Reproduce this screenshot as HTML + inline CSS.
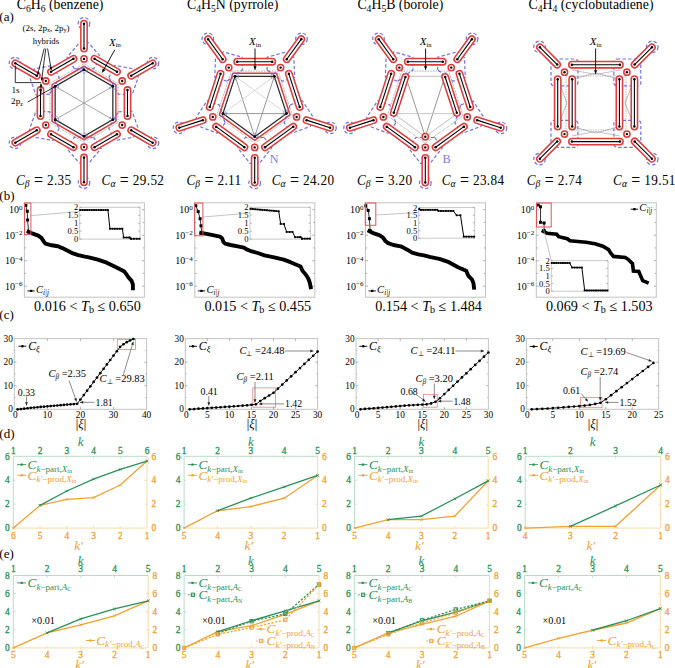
<!DOCTYPE html>
<html><head><meta charset="utf-8"><style>
html,body{margin:0;padding:0;background:#fff;}
svg{display:block;}
text{font-family:"Liberation Serif", serif;}
</style></head><body>
<svg width="675" height="668" viewBox="0 0 675 668">
<rect width="675" height="668" fill="#fff"/>
<text x="16.7" y="9.3" font-size="13.8" text-anchor="start" fill="#000"  ><tspan dy="-0.0">C</tspan><tspan font-size="70%" dy="2.2">6</tspan><tspan dy="-2.2">H</tspan><tspan font-size="70%" dy="2.2">6</tspan><tspan dy="-2.2"> (benzene)</tspan></text>
<text x="187.0" y="9.3" font-size="13.8" text-anchor="start" fill="#000"  ><tspan dy="-0.0">C</tspan><tspan font-size="70%" dy="2.2">4</tspan><tspan dy="-2.2">H</tspan><tspan font-size="70%" dy="2.2">5</tspan><tspan dy="-2.2">N (pyrrole)</tspan></text>
<text x="357.4" y="9.3" font-size="13.8" text-anchor="start" fill="#000"  ><tspan dy="-0.0">C</tspan><tspan font-size="70%" dy="2.2">4</tspan><tspan dy="-2.2">H</tspan><tspan font-size="70%" dy="2.2">5</tspan><tspan dy="-2.2">B (borole)</tspan></text>
<text x="528.5" y="9.3" font-size="13.8" text-anchor="start" fill="#000"  ><tspan dy="-0.0">C</tspan><tspan font-size="70%" dy="2.2">4</tspan><tspan dy="-2.2">H</tspan><tspan font-size="70%" dy="2.2">4</tspan><tspan dy="-2.2"> (cyclobutadiene)</tspan></text>
<text x="-0.7" y="20.5" font-size="13" text-anchor="start" fill="#000"  >(a)</text>
<text x="-0.7" y="199.5" font-size="13" text-anchor="start" fill="#000"  >(b)</text>
<text x="-0.7" y="319.2" font-size="13" text-anchor="start" fill="#000"  >(c)</text>
<text x="-0.7" y="438.0" font-size="13" text-anchor="start" fill="#000"  >(d)</text>
<text x="-0.7" y="557.8" font-size="13" text-anchor="start" fill="#000"  >(e)</text>
<rect x="24.4" y="202.8" width="120.0" height="94.4" fill="none" stroke="#c4c4c4" stroke-width="1"/>
<line x1="24.40" y1="286.20" x2="26.90" y2="286.20" stroke="#999" stroke-width="0.8" />
<line x1="144.40" y1="286.20" x2="141.90" y2="286.20" stroke="#999" stroke-width="0.8" />
<line x1="24.40" y1="273.45" x2="26.00" y2="273.45" stroke="#999" stroke-width="0.8" />
<line x1="144.40" y1="273.45" x2="142.80" y2="273.45" stroke="#999" stroke-width="0.8" />
<line x1="24.40" y1="260.70" x2="26.90" y2="260.70" stroke="#999" stroke-width="0.8" />
<line x1="144.40" y1="260.70" x2="141.90" y2="260.70" stroke="#999" stroke-width="0.8" />
<line x1="24.40" y1="247.95" x2="26.00" y2="247.95" stroke="#999" stroke-width="0.8" />
<line x1="144.40" y1="247.95" x2="142.80" y2="247.95" stroke="#999" stroke-width="0.8" />
<line x1="24.40" y1="235.20" x2="26.90" y2="235.20" stroke="#999" stroke-width="0.8" />
<line x1="144.40" y1="235.20" x2="141.90" y2="235.20" stroke="#999" stroke-width="0.8" />
<line x1="24.40" y1="222.45" x2="26.00" y2="222.45" stroke="#999" stroke-width="0.8" />
<line x1="144.40" y1="222.45" x2="142.80" y2="222.45" stroke="#999" stroke-width="0.8" />
<line x1="24.40" y1="209.70" x2="26.90" y2="209.70" stroke="#999" stroke-width="0.8" />
<line x1="144.40" y1="209.70" x2="141.90" y2="209.70" stroke="#999" stroke-width="0.8" />
<text x="22.4" y="213.1" font-size="10" text-anchor="end">10<tspan font-size="7" dy="-3.4">0</tspan></text>
<text x="22.4" y="238.6" font-size="10" text-anchor="end">10<tspan font-size="7" dy="-3.4">−2</tspan></text>
<text x="22.4" y="264.1" font-size="10" text-anchor="end">10<tspan font-size="7" dy="-3.4">−4</tspan></text>
<text x="22.4" y="289.6" font-size="10" text-anchor="end">10<tspan font-size="7" dy="-3.4">−6</tspan></text>
<polyline points="28.60,231.70 32.10,233.40 38.30,235.70 41.40,237.90 43.70,241.40 45.40,243.70 51.70,245.30 57.90,246.30 62.30,248.10 67.70,250.80 73.00,253.40 78.30,255.20 85.00,256.60 88.90,257.30 97.80,259.60 106.70,262.70 115.60,267.10 124.40,271.60 126.70,274.70 128.40,277.30 131.60,280.90 132.90,284.40 132.90,288.40" stroke="#000" stroke-width="3.9" fill="none" stroke-linejoin="round" stroke-linecap="square"/>
<polyline points="25.80,205.40 27.30,211.30 27.60,220.00 28.60,232.00" stroke="#000" stroke-width="0.8" fill="none" />
<rect x="24.3" y="203.9" width="3" height="3" fill="#000"/>
<rect x="25.8" y="209.8" width="3" height="3" fill="#000"/>
<rect x="26.1" y="218.5" width="3" height="3" fill="#000"/>
<rect x="27.1" y="230.5" width="3" height="3" fill="#000"/>
<rect x="24.5" y="203" width="6.4" height="31.4" fill="none" stroke="#e05555" stroke-width="1"/>
<line x1="30.90" y1="215.60" x2="79.70" y2="211.50" stroke="#aaa" stroke-width="0.7" />
<rect x="79.7" y="207.3" width="60.3" height="31.8" fill="#fff" stroke="#c4c4c4" stroke-width="0.9"/>
<line x1="79.70" y1="239.10" x2="81.50" y2="239.10" stroke="#999" stroke-width="0.7" />
<line x1="140.00" y1="239.10" x2="138.20" y2="239.10" stroke="#999" stroke-width="0.7" />
<text x="78.2" y="242.1" font-size="8.6" text-anchor="end">0</text>
<line x1="79.70" y1="231.15" x2="81.50" y2="231.15" stroke="#999" stroke-width="0.7" />
<line x1="140.00" y1="231.15" x2="138.20" y2="231.15" stroke="#999" stroke-width="0.7" />
<text x="78.2" y="234.2" font-size="8.6" text-anchor="end">0.5</text>
<line x1="79.70" y1="223.20" x2="81.50" y2="223.20" stroke="#999" stroke-width="0.7" />
<line x1="140.00" y1="223.20" x2="138.20" y2="223.20" stroke="#999" stroke-width="0.7" />
<text x="78.2" y="226.2" font-size="8.6" text-anchor="end">1</text>
<line x1="79.70" y1="215.25" x2="81.50" y2="215.25" stroke="#999" stroke-width="0.7" />
<line x1="140.00" y1="215.25" x2="138.20" y2="215.25" stroke="#999" stroke-width="0.7" />
<text x="78.2" y="218.2" font-size="8.6" text-anchor="end">1.5</text>
<line x1="79.70" y1="207.30" x2="81.50" y2="207.30" stroke="#999" stroke-width="0.7" />
<line x1="140.00" y1="207.30" x2="138.20" y2="207.30" stroke="#999" stroke-width="0.7" />
<text x="78.2" y="210.3" font-size="8.6" text-anchor="end">2</text>
<polyline points="80.20,210.00 107.95,210.00 109.91,228.76 122.36,228.76 123.67,237.51 129.42,237.51 131.20,238.78 139.50,238.78" stroke="#000" stroke-width="1.0" fill="none" />
<rect x="79.2" y="209.1" width="1.9" height="1.9" fill="#000"/>
<rect x="81.6" y="209.1" width="1.9" height="1.9" fill="#000"/>
<rect x="83.9" y="209.1" width="1.9" height="1.9" fill="#000"/>
<rect x="86.2" y="209.1" width="1.9" height="1.9" fill="#000"/>
<rect x="88.5" y="209.1" width="1.9" height="1.9" fill="#000"/>
<rect x="90.8" y="209.1" width="1.9" height="1.9" fill="#000"/>
<rect x="93.1" y="209.1" width="1.9" height="1.9" fill="#000"/>
<rect x="95.4" y="209.1" width="1.9" height="1.9" fill="#000"/>
<rect x="97.8" y="209.1" width="1.9" height="1.9" fill="#000"/>
<rect x="100.1" y="209.1" width="1.9" height="1.9" fill="#000"/>
<rect x="102.4" y="209.1" width="1.9" height="1.9" fill="#000"/>
<rect x="104.7" y="209.1" width="1.9" height="1.9" fill="#000"/>
<rect x="107.0" y="209.1" width="1.9" height="1.9" fill="#000"/>
<rect x="109.0" y="227.8" width="1.9" height="1.9" fill="#000"/>
<rect x="111.4" y="227.8" width="1.9" height="1.9" fill="#000"/>
<rect x="113.9" y="227.8" width="1.9" height="1.9" fill="#000"/>
<rect x="116.4" y="227.8" width="1.9" height="1.9" fill="#000"/>
<rect x="118.9" y="227.8" width="1.9" height="1.9" fill="#000"/>
<rect x="121.4" y="227.8" width="1.9" height="1.9" fill="#000"/>
<rect x="122.7" y="236.6" width="1.9" height="1.9" fill="#000"/>
<rect x="125.6" y="236.6" width="1.9" height="1.9" fill="#000"/>
<rect x="128.5" y="236.6" width="1.9" height="1.9" fill="#000"/>
<rect x="128.5" y="236.6" width="1.9" height="1.9" fill="#000"/>
<rect x="130.2" y="237.8" width="1.9" height="1.9" fill="#000"/>
<rect x="130.2" y="237.8" width="1.9" height="1.9" fill="#000"/>
<rect x="133.0" y="237.8" width="1.9" height="1.9" fill="#000"/>
<rect x="135.8" y="237.8" width="1.9" height="1.9" fill="#000"/>
<rect x="138.6" y="237.8" width="1.9" height="1.9" fill="#000"/>
<text x="87.4" y="310.5" font-size="14.2" text-anchor="middle">0.016 &lt; <tspan font-style="italic">T</tspan><tspan font-size="10" dy="2.5">b</tspan><tspan dy="-2.5"> ≤ 0.650</tspan></text>
<line x1="27.40" y1="290.90" x2="34.80" y2="290.90" stroke="#000" stroke-width="0.9" />
<rect x="29.9" y="289.79999999999995" width="2.4" height="2.2" fill="#000"/>
<text x="36.0" y="292.8" font-size="10.6"><tspan font-style="italic">C</tspan><tspan font-size="7.2" dy="1.8" font-style="italic">i|j</tspan></text>
<rect x="194.8" y="202.8" width="120.0" height="94.4" fill="none" stroke="#c4c4c4" stroke-width="1"/>
<line x1="194.80" y1="286.20" x2="197.30" y2="286.20" stroke="#999" stroke-width="0.8" />
<line x1="314.80" y1="286.20" x2="312.30" y2="286.20" stroke="#999" stroke-width="0.8" />
<line x1="194.80" y1="273.45" x2="196.40" y2="273.45" stroke="#999" stroke-width="0.8" />
<line x1="314.80" y1="273.45" x2="313.20" y2="273.45" stroke="#999" stroke-width="0.8" />
<line x1="194.80" y1="260.70" x2="197.30" y2="260.70" stroke="#999" stroke-width="0.8" />
<line x1="314.80" y1="260.70" x2="312.30" y2="260.70" stroke="#999" stroke-width="0.8" />
<line x1="194.80" y1="247.95" x2="196.40" y2="247.95" stroke="#999" stroke-width="0.8" />
<line x1="314.80" y1="247.95" x2="313.20" y2="247.95" stroke="#999" stroke-width="0.8" />
<line x1="194.80" y1="235.20" x2="197.30" y2="235.20" stroke="#999" stroke-width="0.8" />
<line x1="314.80" y1="235.20" x2="312.30" y2="235.20" stroke="#999" stroke-width="0.8" />
<line x1="194.80" y1="222.45" x2="196.40" y2="222.45" stroke="#999" stroke-width="0.8" />
<line x1="314.80" y1="222.45" x2="313.20" y2="222.45" stroke="#999" stroke-width="0.8" />
<line x1="194.80" y1="209.70" x2="197.30" y2="209.70" stroke="#999" stroke-width="0.8" />
<line x1="314.80" y1="209.70" x2="312.30" y2="209.70" stroke="#999" stroke-width="0.8" />
<text x="192.8" y="213.1" font-size="10" text-anchor="end">10<tspan font-size="7" dy="-3.4">0</tspan></text>
<text x="192.8" y="238.6" font-size="10" text-anchor="end">10<tspan font-size="7" dy="-3.4">−2</tspan></text>
<text x="192.8" y="264.1" font-size="10" text-anchor="end">10<tspan font-size="7" dy="-3.4">−4</tspan></text>
<text x="192.8" y="289.6" font-size="10" text-anchor="end">10<tspan font-size="7" dy="-3.4">−6</tspan></text>
<polyline points="201.20,233.00 206.60,233.90 212.80,235.20 219.90,236.60 222.10,238.30 223.40,241.90 225.20,243.70 230.60,245.00 237.70,246.30 243.90,247.70 246.60,249.40 250.10,250.80 257.70,253.00 264.50,255.40 274.10,257.30 283.70,259.70 290.50,262.20 298.20,265.50 300.60,266.50 302.50,270.80 305.90,274.70 308.30,278.50 309.70,282.40 310.70,287.20" stroke="#000" stroke-width="3.9" fill="none" stroke-linejoin="round" stroke-linecap="square"/>
<polyline points="195.80,205.70 198.20,211.60 200.10,218.70 201.00,225.80 201.70,232.90" stroke="#000" stroke-width="0.8" fill="none" />
<rect x="194.3" y="204.2" width="3" height="3" fill="#000"/>
<rect x="196.7" y="210.1" width="3" height="3" fill="#000"/>
<rect x="198.6" y="217.2" width="3" height="3" fill="#000"/>
<rect x="199.5" y="224.3" width="3" height="3" fill="#000"/>
<rect x="200.2" y="231.4" width="3" height="3" fill="#000"/>
<rect x="194.6" y="203" width="8.3" height="32.8" fill="none" stroke="#e05555" stroke-width="1"/>
<line x1="202.90" y1="217.00" x2="250.00" y2="213.00" stroke="#aaa" stroke-width="0.7" />
<rect x="250.0" y="207.3" width="60.3" height="31.8" fill="#fff" stroke="#c4c4c4" stroke-width="0.9"/>
<line x1="250.00" y1="239.10" x2="251.80" y2="239.10" stroke="#999" stroke-width="0.7" />
<line x1="310.30" y1="239.10" x2="308.50" y2="239.10" stroke="#999" stroke-width="0.7" />
<text x="248.5" y="242.1" font-size="8.6" text-anchor="end">0</text>
<line x1="250.00" y1="231.15" x2="251.80" y2="231.15" stroke="#999" stroke-width="0.7" />
<line x1="310.30" y1="231.15" x2="308.50" y2="231.15" stroke="#999" stroke-width="0.7" />
<text x="248.5" y="234.2" font-size="8.6" text-anchor="end">0.5</text>
<line x1="250.00" y1="223.20" x2="251.80" y2="223.20" stroke="#999" stroke-width="0.7" />
<line x1="310.30" y1="223.20" x2="308.50" y2="223.20" stroke="#999" stroke-width="0.7" />
<text x="248.5" y="226.2" font-size="8.6" text-anchor="end">1</text>
<line x1="250.00" y1="215.25" x2="251.80" y2="215.25" stroke="#999" stroke-width="0.7" />
<line x1="310.30" y1="215.25" x2="308.50" y2="215.25" stroke="#999" stroke-width="0.7" />
<text x="248.5" y="218.2" font-size="8.6" text-anchor="end">1.5</text>
<line x1="250.00" y1="207.30" x2="251.80" y2="207.30" stroke="#999" stroke-width="0.7" />
<line x1="310.30" y1="207.30" x2="308.50" y2="207.30" stroke="#999" stroke-width="0.7" />
<text x="248.5" y="210.3" font-size="8.6" text-anchor="end">2</text>
<polyline points="250.50,208.89 278.73,211.28 280.68,224.00 283.95,224.00 286.61,231.94 292.48,231.94 295.03,237.19 300.31,237.19 302.09,238.62 309.80,238.62" stroke="#000" stroke-width="1.0" fill="none" />
<rect x="249.6" y="207.9" width="1.9" height="1.9" fill="#000"/>
<rect x="251.9" y="208.1" width="1.9" height="1.9" fill="#000"/>
<rect x="254.3" y="208.3" width="1.9" height="1.9" fill="#000"/>
<rect x="256.6" y="208.5" width="1.9" height="1.9" fill="#000"/>
<rect x="259.0" y="208.7" width="1.9" height="1.9" fill="#000"/>
<rect x="261.3" y="208.9" width="1.9" height="1.9" fill="#000"/>
<rect x="263.7" y="209.1" width="1.9" height="1.9" fill="#000"/>
<rect x="266.0" y="209.3" width="1.9" height="1.9" fill="#000"/>
<rect x="268.4" y="209.5" width="1.9" height="1.9" fill="#000"/>
<rect x="270.7" y="209.7" width="1.9" height="1.9" fill="#000"/>
<rect x="273.1" y="209.9" width="1.9" height="1.9" fill="#000"/>
<rect x="275.4" y="210.1" width="1.9" height="1.9" fill="#000"/>
<rect x="277.8" y="210.3" width="1.9" height="1.9" fill="#000"/>
<rect x="279.7" y="223.0" width="1.9" height="1.9" fill="#000"/>
<rect x="283.0" y="223.0" width="1.9" height="1.9" fill="#000"/>
<rect x="285.7" y="231.0" width="1.9" height="1.9" fill="#000"/>
<rect x="288.6" y="231.0" width="1.9" height="1.9" fill="#000"/>
<rect x="291.5" y="231.0" width="1.9" height="1.9" fill="#000"/>
<rect x="294.1" y="236.2" width="1.9" height="1.9" fill="#000"/>
<rect x="296.7" y="236.2" width="1.9" height="1.9" fill="#000"/>
<rect x="299.4" y="236.2" width="1.9" height="1.9" fill="#000"/>
<rect x="299.4" y="236.2" width="1.9" height="1.9" fill="#000"/>
<rect x="301.1" y="237.7" width="1.9" height="1.9" fill="#000"/>
<rect x="301.1" y="237.7" width="1.9" height="1.9" fill="#000"/>
<rect x="303.7" y="237.7" width="1.9" height="1.9" fill="#000"/>
<rect x="306.3" y="237.7" width="1.9" height="1.9" fill="#000"/>
<rect x="308.9" y="237.7" width="1.9" height="1.9" fill="#000"/>
<text x="257.8" y="310.5" font-size="14.2" text-anchor="middle">0.015 &lt; <tspan font-style="italic">T</tspan><tspan font-size="10" dy="2.5">b</tspan><tspan dy="-2.5"> ≤ 0.455</tspan></text>
<line x1="197.80" y1="290.90" x2="205.20" y2="290.90" stroke="#000" stroke-width="0.9" />
<rect x="200.3" y="289.79999999999995" width="2.4" height="2.2" fill="#000"/>
<text x="206.4" y="292.8" font-size="10.6"><tspan font-style="italic">C</tspan><tspan font-size="7.2" dy="1.8" font-style="italic">i|j</tspan></text>
<rect x="365.5" y="202.8" width="120.0" height="94.4" fill="none" stroke="#c4c4c4" stroke-width="1"/>
<line x1="365.50" y1="286.20" x2="368.00" y2="286.20" stroke="#999" stroke-width="0.8" />
<line x1="485.50" y1="286.20" x2="483.00" y2="286.20" stroke="#999" stroke-width="0.8" />
<line x1="365.50" y1="273.45" x2="367.10" y2="273.45" stroke="#999" stroke-width="0.8" />
<line x1="485.50" y1="273.45" x2="483.90" y2="273.45" stroke="#999" stroke-width="0.8" />
<line x1="365.50" y1="260.70" x2="368.00" y2="260.70" stroke="#999" stroke-width="0.8" />
<line x1="485.50" y1="260.70" x2="483.00" y2="260.70" stroke="#999" stroke-width="0.8" />
<line x1="365.50" y1="247.95" x2="367.10" y2="247.95" stroke="#999" stroke-width="0.8" />
<line x1="485.50" y1="247.95" x2="483.90" y2="247.95" stroke="#999" stroke-width="0.8" />
<line x1="365.50" y1="235.20" x2="368.00" y2="235.20" stroke="#999" stroke-width="0.8" />
<line x1="485.50" y1="235.20" x2="483.00" y2="235.20" stroke="#999" stroke-width="0.8" />
<line x1="365.50" y1="222.45" x2="367.10" y2="222.45" stroke="#999" stroke-width="0.8" />
<line x1="485.50" y1="222.45" x2="483.90" y2="222.45" stroke="#999" stroke-width="0.8" />
<line x1="365.50" y1="209.70" x2="368.00" y2="209.70" stroke="#999" stroke-width="0.8" />
<line x1="485.50" y1="209.70" x2="483.00" y2="209.70" stroke="#999" stroke-width="0.8" />
<text x="363.5" y="213.1" font-size="10" text-anchor="end">10<tspan font-size="7" dy="-3.4">0</tspan></text>
<text x="363.5" y="238.6" font-size="10" text-anchor="end">10<tspan font-size="7" dy="-3.4">−2</tspan></text>
<text x="363.5" y="264.1" font-size="10" text-anchor="end">10<tspan font-size="7" dy="-3.4">−4</tspan></text>
<text x="363.5" y="289.6" font-size="10" text-anchor="end">10<tspan font-size="7" dy="-3.4">−6</tspan></text>
<polyline points="369.40,231.20 373.90,233.40 379.20,235.20 382.80,237.40 385.40,241.00 388.10,243.20 393.40,245.00 400.60,246.30 404.10,248.10 407.70,249.90 412.10,252.60 418.30,254.30 425.00,255.70 429.60,256.90 439.30,258.80 448.90,262.20 458.50,267.50 466.20,270.80 468.20,275.60 472.00,279.50 473.50,283.40 474.00,287.70" stroke="#000" stroke-width="3.9" fill="none" stroke-linejoin="round" stroke-linecap="square"/>
<polyline points="365.80,205.70 368.20,210.40 369.40,218.70 370.10,230.50" stroke="#000" stroke-width="0.8" fill="none" />
<rect x="364.3" y="204.2" width="3" height="3" fill="#000"/>
<rect x="366.7" y="208.9" width="3" height="3" fill="#000"/>
<rect x="367.9" y="217.2" width="3" height="3" fill="#000"/>
<rect x="368.6" y="229.0" width="3" height="3" fill="#000"/>
<rect x="365.3" y="203" width="10.5" height="22.3" fill="none" stroke="#e05555" stroke-width="1"/>
<line x1="375.80" y1="215.00" x2="418.70" y2="212.50" stroke="#aaa" stroke-width="0.7" />
<rect x="418.7" y="207.6" width="56.0" height="30.6" fill="#fff" stroke="#c4c4c4" stroke-width="0.9"/>
<line x1="418.70" y1="238.20" x2="420.50" y2="238.20" stroke="#999" stroke-width="0.7" />
<line x1="474.70" y1="238.20" x2="472.90" y2="238.20" stroke="#999" stroke-width="0.7" />
<text x="417.2" y="241.2" font-size="8.6" text-anchor="end">0</text>
<line x1="418.70" y1="230.55" x2="420.50" y2="230.55" stroke="#999" stroke-width="0.7" />
<line x1="474.70" y1="230.55" x2="472.90" y2="230.55" stroke="#999" stroke-width="0.7" />
<text x="417.2" y="233.5" font-size="8.6" text-anchor="end">0.5</text>
<line x1="418.70" y1="222.90" x2="420.50" y2="222.90" stroke="#999" stroke-width="0.7" />
<line x1="474.70" y1="222.90" x2="472.90" y2="222.90" stroke="#999" stroke-width="0.7" />
<text x="417.2" y="225.9" font-size="8.6" text-anchor="end">1</text>
<line x1="418.70" y1="215.25" x2="420.50" y2="215.25" stroke="#999" stroke-width="0.7" />
<line x1="474.70" y1="215.25" x2="472.90" y2="215.25" stroke="#999" stroke-width="0.7" />
<text x="417.2" y="218.2" font-size="8.6" text-anchor="end">1.5</text>
<line x1="418.70" y1="207.60" x2="420.50" y2="207.60" stroke="#999" stroke-width="0.7" />
<line x1="474.70" y1="207.60" x2="472.90" y2="207.60" stroke="#999" stroke-width="0.7" />
<text x="417.2" y="210.6" font-size="8.6" text-anchor="end">2</text>
<polyline points="419.20,209.13 420.85,209.89 437.35,209.89 438.45,210.97 453.30,210.97 456.60,215.25 460.45,215.25 463.75,236.67 474.20,236.67" stroke="#000" stroke-width="1.0" fill="none" />
<rect x="418.2" y="208.2" width="1.9" height="1.9" fill="#000"/>
<rect x="419.9" y="208.9" width="1.9" height="1.9" fill="#000"/>
<rect x="419.9" y="208.9" width="1.9" height="1.9" fill="#000"/>
<rect x="422.3" y="208.9" width="1.9" height="1.9" fill="#000"/>
<rect x="424.6" y="208.9" width="1.9" height="1.9" fill="#000"/>
<rect x="427.0" y="208.9" width="1.9" height="1.9" fill="#000"/>
<rect x="429.3" y="208.9" width="1.9" height="1.9" fill="#000"/>
<rect x="431.7" y="208.9" width="1.9" height="1.9" fill="#000"/>
<rect x="434.0" y="208.9" width="1.9" height="1.9" fill="#000"/>
<rect x="436.4" y="208.9" width="1.9" height="1.9" fill="#000"/>
<rect x="437.5" y="210.0" width="1.9" height="1.9" fill="#000"/>
<rect x="440.0" y="210.0" width="1.9" height="1.9" fill="#000"/>
<rect x="442.4" y="210.0" width="1.9" height="1.9" fill="#000"/>
<rect x="444.9" y="210.0" width="1.9" height="1.9" fill="#000"/>
<rect x="447.4" y="210.0" width="1.9" height="1.9" fill="#000"/>
<rect x="449.9" y="210.0" width="1.9" height="1.9" fill="#000"/>
<rect x="452.4" y="210.0" width="1.9" height="1.9" fill="#000"/>
<rect x="455.7" y="214.3" width="1.9" height="1.9" fill="#000"/>
<rect x="459.5" y="214.3" width="1.9" height="1.9" fill="#000"/>
<rect x="462.8" y="235.7" width="1.9" height="1.9" fill="#000"/>
<rect x="465.4" y="235.7" width="1.9" height="1.9" fill="#000"/>
<rect x="468.0" y="235.7" width="1.9" height="1.9" fill="#000"/>
<rect x="470.6" y="235.7" width="1.9" height="1.9" fill="#000"/>
<rect x="473.2" y="235.7" width="1.9" height="1.9" fill="#000"/>
<text x="428.5" y="310.5" font-size="14.2" text-anchor="middle">0.154 &lt; <tspan font-style="italic">T</tspan><tspan font-size="10" dy="2.5">b</tspan><tspan dy="-2.5"> ≤ 1.484</tspan></text>
<line x1="368.50" y1="290.90" x2="375.90" y2="290.90" stroke="#000" stroke-width="0.9" />
<rect x="371.0" y="289.79999999999995" width="2.4" height="2.2" fill="#000"/>
<text x="377.1" y="292.8" font-size="10.6"><tspan font-style="italic">C</tspan><tspan font-size="7.2" dy="1.8" font-style="italic">i|j</tspan></text>
<rect x="536.3" y="202.8" width="120.0" height="94.4" fill="none" stroke="#c4c4c4" stroke-width="1"/>
<line x1="536.30" y1="286.20" x2="538.80" y2="286.20" stroke="#999" stroke-width="0.8" />
<line x1="656.30" y1="286.20" x2="653.80" y2="286.20" stroke="#999" stroke-width="0.8" />
<line x1="536.30" y1="273.45" x2="537.90" y2="273.45" stroke="#999" stroke-width="0.8" />
<line x1="656.30" y1="273.45" x2="654.70" y2="273.45" stroke="#999" stroke-width="0.8" />
<line x1="536.30" y1="260.70" x2="538.80" y2="260.70" stroke="#999" stroke-width="0.8" />
<line x1="656.30" y1="260.70" x2="653.80" y2="260.70" stroke="#999" stroke-width="0.8" />
<line x1="536.30" y1="247.95" x2="537.90" y2="247.95" stroke="#999" stroke-width="0.8" />
<line x1="656.30" y1="247.95" x2="654.70" y2="247.95" stroke="#999" stroke-width="0.8" />
<line x1="536.30" y1="235.20" x2="538.80" y2="235.20" stroke="#999" stroke-width="0.8" />
<line x1="656.30" y1="235.20" x2="653.80" y2="235.20" stroke="#999" stroke-width="0.8" />
<line x1="536.30" y1="222.45" x2="537.90" y2="222.45" stroke="#999" stroke-width="0.8" />
<line x1="656.30" y1="222.45" x2="654.70" y2="222.45" stroke="#999" stroke-width="0.8" />
<line x1="536.30" y1="209.70" x2="538.80" y2="209.70" stroke="#999" stroke-width="0.8" />
<line x1="656.30" y1="209.70" x2="653.80" y2="209.70" stroke="#999" stroke-width="0.8" />
<text x="534.3" y="213.1" font-size="10" text-anchor="end">10<tspan font-size="7" dy="-3.4">0</tspan></text>
<text x="534.3" y="238.6" font-size="10" text-anchor="end">10<tspan font-size="7" dy="-3.4">−2</tspan></text>
<text x="534.3" y="264.1" font-size="10" text-anchor="end">10<tspan font-size="7" dy="-3.4">−4</tspan></text>
<text x="534.3" y="289.6" font-size="10" text-anchor="end">10<tspan font-size="7" dy="-3.4">−6</tspan></text>
<polyline points="543.30,231.30 547.30,233.30 556.70,234.30 558.70,236.70 567.30,238.70 570.00,240.70 586.00,242.30 595.00,243.80 602.80,246.20 608.60,249.60 610.60,253.00 613.50,256.40 625.20,257.40 628.10,259.30 632.50,263.70 633.40,271.00 638.80,271.50 640.20,274.90 642.70,280.70 647.00,282.50" stroke="#000" stroke-width="3.6" fill="none" stroke-linejoin="miter" stroke-linecap="square"/>
<polyline points="538.20,205.00 540.50,206.80 540.50,222.30 544.10,223.00 544.10,230.50" stroke="#000" stroke-width="0.8" fill="none" />
<rect x="536.7" y="203.5" width="3" height="3" fill="#000"/>
<rect x="539.0" y="205.3" width="3" height="3" fill="#000"/>
<rect x="539.0" y="220.8" width="3" height="3" fill="#000"/>
<rect x="542.6" y="221.5" width="3" height="3" fill="#000"/>
<rect x="542.6" y="229.0" width="3" height="3" fill="#000"/>
<rect x="536.5" y="203" width="14.7" height="24.0" fill="none" stroke="#e05555" stroke-width="1"/>
<line x1="543.00" y1="227.00" x2="551.30" y2="260.70" stroke="#aaa" stroke-width="0.7" />
<rect x="551.3" y="260.7" width="56.7" height="30.5" fill="#fff" stroke="#c4c4c4" stroke-width="0.9"/>
<line x1="551.30" y1="291.20" x2="553.10" y2="291.20" stroke="#999" stroke-width="0.7" />
<line x1="608.00" y1="291.20" x2="606.20" y2="291.20" stroke="#999" stroke-width="0.7" />
<text x="549.8" y="294.2" font-size="8.6" text-anchor="end">0</text>
<line x1="551.30" y1="283.57" x2="553.10" y2="283.57" stroke="#999" stroke-width="0.7" />
<line x1="608.00" y1="283.57" x2="606.20" y2="283.57" stroke="#999" stroke-width="0.7" />
<text x="549.8" y="286.6" font-size="8.6" text-anchor="end">0.5</text>
<line x1="551.30" y1="275.95" x2="553.10" y2="275.95" stroke="#999" stroke-width="0.7" />
<line x1="608.00" y1="275.95" x2="606.20" y2="275.95" stroke="#999" stroke-width="0.7" />
<text x="549.8" y="278.9" font-size="8.6" text-anchor="end">1</text>
<line x1="551.30" y1="268.32" x2="553.10" y2="268.32" stroke="#999" stroke-width="0.7" />
<line x1="608.00" y1="268.32" x2="606.20" y2="268.32" stroke="#999" stroke-width="0.7" />
<text x="549.8" y="271.3" font-size="8.6" text-anchor="end">1.5</text>
<line x1="551.30" y1="260.70" x2="553.10" y2="260.70" stroke="#999" stroke-width="0.7" />
<line x1="608.00" y1="260.70" x2="606.20" y2="260.70" stroke="#999" stroke-width="0.7" />
<text x="549.8" y="263.7" font-size="8.6" text-anchor="end">2</text>
<polyline points="551.80,262.99 569.62,262.99 572.13,267.56 581.88,267.56 584.66,290.44 607.50,290.44" stroke="#000" stroke-width="1.0" fill="none" />
<rect x="550.8" y="262.0" width="1.9" height="1.9" fill="#000"/>
<rect x="553.1" y="262.0" width="1.9" height="1.9" fill="#000"/>
<rect x="555.3" y="262.0" width="1.9" height="1.9" fill="#000"/>
<rect x="557.5" y="262.0" width="1.9" height="1.9" fill="#000"/>
<rect x="559.8" y="262.0" width="1.9" height="1.9" fill="#000"/>
<rect x="562.0" y="262.0" width="1.9" height="1.9" fill="#000"/>
<rect x="564.2" y="262.0" width="1.9" height="1.9" fill="#000"/>
<rect x="566.4" y="262.0" width="1.9" height="1.9" fill="#000"/>
<rect x="568.7" y="262.0" width="1.9" height="1.9" fill="#000"/>
<rect x="571.2" y="266.6" width="1.9" height="1.9" fill="#000"/>
<rect x="573.6" y="266.6" width="1.9" height="1.9" fill="#000"/>
<rect x="576.1" y="266.6" width="1.9" height="1.9" fill="#000"/>
<rect x="578.5" y="266.6" width="1.9" height="1.9" fill="#000"/>
<rect x="580.9" y="266.6" width="1.9" height="1.9" fill="#000"/>
<rect x="583.7" y="289.5" width="1.9" height="1.9" fill="#000"/>
<rect x="586.0" y="289.5" width="1.9" height="1.9" fill="#000"/>
<rect x="588.3" y="289.5" width="1.9" height="1.9" fill="#000"/>
<rect x="590.6" y="289.5" width="1.9" height="1.9" fill="#000"/>
<rect x="592.8" y="289.5" width="1.9" height="1.9" fill="#000"/>
<rect x="595.1" y="289.5" width="1.9" height="1.9" fill="#000"/>
<rect x="597.4" y="289.5" width="1.9" height="1.9" fill="#000"/>
<rect x="599.7" y="289.5" width="1.9" height="1.9" fill="#000"/>
<rect x="602.0" y="289.5" width="1.9" height="1.9" fill="#000"/>
<rect x="604.3" y="289.5" width="1.9" height="1.9" fill="#000"/>
<rect x="606.5" y="289.5" width="1.9" height="1.9" fill="#000"/>
<text x="599.3" y="310.5" font-size="14.2" text-anchor="middle">0.069 &lt; <tspan font-style="italic">T</tspan><tspan font-size="10" dy="2.5">b</tspan><tspan dy="-2.5"> ≤ 1.503</tspan></text>
<line x1="630.70" y1="209.20" x2="638.10" y2="209.20" stroke="#000" stroke-width="0.9" />
<rect x="633.2" y="208.1" width="2.4" height="2.2" fill="#000"/>
<text x="639.3" y="211.1" font-size="10.6"><tspan font-style="italic">C</tspan><tspan font-size="7.2" dy="1.8" font-style="italic">i|j</tspan></text>
<rect x="117.3" y="339.4" width="18.3" height="10.0" fill="none" stroke="#f08080" stroke-width="0.8"/>
<rect x="14.3" y="338.6" width="132.3" height="70.7" fill="none" stroke="#c4c4c4" stroke-width="1"/>
<text x="12.8" y="412.4" font-size="9.3" text-anchor="end" fill="#000"  >0</text>
<line x1="14.30" y1="385.73" x2="16.50" y2="385.73" stroke="#999" stroke-width="0.8" />
<line x1="146.60" y1="385.73" x2="144.40" y2="385.73" stroke="#999" stroke-width="0.8" />
<text x="12.8" y="388.8" font-size="9.3" text-anchor="end" fill="#000"  >10</text>
<line x1="14.30" y1="362.17" x2="16.50" y2="362.17" stroke="#999" stroke-width="0.8" />
<line x1="146.60" y1="362.17" x2="144.40" y2="362.17" stroke="#999" stroke-width="0.8" />
<text x="12.8" y="365.3" font-size="9.3" text-anchor="end" fill="#000"  >20</text>
<text x="12.8" y="341.7" font-size="9.3" text-anchor="end" fill="#000"  >30</text>
<line x1="14.30" y1="397.52" x2="15.70" y2="397.52" stroke="#aaa" stroke-width="0.7" />
<line x1="146.60" y1="397.52" x2="145.20" y2="397.52" stroke="#aaa" stroke-width="0.7" />
<line x1="14.30" y1="373.95" x2="15.70" y2="373.95" stroke="#aaa" stroke-width="0.7" />
<line x1="146.60" y1="373.95" x2="145.20" y2="373.95" stroke="#aaa" stroke-width="0.7" />
<line x1="14.30" y1="350.38" x2="15.70" y2="350.38" stroke="#aaa" stroke-width="0.7" />
<line x1="146.60" y1="350.38" x2="145.20" y2="350.38" stroke="#aaa" stroke-width="0.7" />
<text x="15.3" y="418.0" font-size="9.3" text-anchor="middle" fill="#000"  >0</text>
<line x1="47.38" y1="409.30" x2="47.38" y2="407.10" stroke="#999" stroke-width="0.8" />
<line x1="47.38" y1="338.60" x2="47.38" y2="340.80" stroke="#999" stroke-width="0.8" />
<text x="47.4" y="418.0" font-size="9.3" text-anchor="middle" fill="#000"  >10</text>
<line x1="80.45" y1="409.30" x2="80.45" y2="407.10" stroke="#999" stroke-width="0.8" />
<line x1="80.45" y1="338.60" x2="80.45" y2="340.80" stroke="#999" stroke-width="0.8" />
<text x="80.5" y="418.0" font-size="9.3" text-anchor="middle" fill="#000"  >20</text>
<line x1="113.53" y1="409.30" x2="113.53" y2="407.10" stroke="#999" stroke-width="0.8" />
<line x1="113.53" y1="338.60" x2="113.53" y2="340.80" stroke="#999" stroke-width="0.8" />
<text x="113.5" y="418.0" font-size="9.3" text-anchor="middle" fill="#000"  >30</text>
<text x="146.6" y="418.0" font-size="9.3" text-anchor="middle" fill="#000"  >40</text>
<text x="81.0" y="427.5" font-size="12.5" text-anchor="middle" fill="#000"  >|<tspan font-style="italic">ξ</tspan>|</text>
<polyline points="17.61,409.30 20.91,409.06 24.22,408.71 27.53,408.24 30.84,407.84 34.15,407.53 37.45,407.23 40.76,406.94 44.07,406.66 47.38,406.35 50.68,406.07 53.99,405.76 57.30,405.48 60.61,405.18 63.91,404.89 67.22,404.59 70.53,404.30 73.84,404.04 77.14,403.76 80.45,399.50 83.76,395.11 87.07,390.72 90.37,386.33 93.68,381.95 96.99,377.56 100.30,373.17 103.60,368.78 106.91,364.40 110.22,360.01 113.53,355.62 116.83,351.24 120.14,346.85 123.45,344.26 126.76,342.13 130.06,340.49 133.37,339.00" stroke="#000" stroke-width="0.9" fill="none" />
<circle cx="17.61" cy="409.30" r="1.35" fill="#000"/>
<circle cx="20.91" cy="409.06" r="1.35" fill="#000"/>
<circle cx="24.22" cy="408.71" r="1.35" fill="#000"/>
<circle cx="27.53" cy="408.24" r="1.35" fill="#000"/>
<circle cx="30.84" cy="407.84" r="1.35" fill="#000"/>
<circle cx="34.15" cy="407.53" r="1.35" fill="#000"/>
<circle cx="37.45" cy="407.23" r="1.35" fill="#000"/>
<circle cx="40.76" cy="406.94" r="1.35" fill="#000"/>
<circle cx="44.07" cy="406.66" r="1.35" fill="#000"/>
<circle cx="47.38" cy="406.35" r="1.35" fill="#000"/>
<circle cx="50.68" cy="406.07" r="1.35" fill="#000"/>
<circle cx="53.99" cy="405.76" r="1.35" fill="#000"/>
<circle cx="57.30" cy="405.48" r="1.35" fill="#000"/>
<circle cx="60.61" cy="405.18" r="1.35" fill="#000"/>
<circle cx="63.91" cy="404.89" r="1.35" fill="#000"/>
<circle cx="67.22" cy="404.59" r="1.35" fill="#000"/>
<circle cx="70.53" cy="404.30" r="1.35" fill="#000"/>
<circle cx="73.84" cy="404.04" r="1.35" fill="#000"/>
<circle cx="77.14" cy="403.76" r="1.35" fill="#000"/>
<circle cx="80.45" cy="399.50" r="1.35" fill="#000"/>
<circle cx="83.76" cy="395.11" r="1.35" fill="#000"/>
<circle cx="87.07" cy="390.72" r="1.35" fill="#000"/>
<circle cx="90.37" cy="386.33" r="1.35" fill="#000"/>
<circle cx="93.68" cy="381.95" r="1.35" fill="#000"/>
<circle cx="96.99" cy="377.56" r="1.35" fill="#000"/>
<circle cx="100.30" cy="373.17" r="1.35" fill="#000"/>
<circle cx="103.60" cy="368.78" r="1.35" fill="#000"/>
<circle cx="106.91" cy="364.40" r="1.35" fill="#000"/>
<circle cx="110.22" cy="360.01" r="1.35" fill="#000"/>
<circle cx="113.53" cy="355.62" r="1.35" fill="#000"/>
<circle cx="116.83" cy="351.24" r="1.35" fill="#000"/>
<circle cx="120.14" cy="346.85" r="1.35" fill="#000"/>
<circle cx="123.45" cy="344.26" r="1.35" fill="#000"/>
<circle cx="126.76" cy="342.13" r="1.35" fill="#000"/>
<circle cx="130.06" cy="340.49" r="1.35" fill="#000"/>
<circle cx="133.37" cy="339.00" r="1.35" fill="#000"/>
<line x1="18.40" y1="346.20" x2="26.40" y2="346.20" stroke="#000" stroke-width="0.9" />
<circle cx="22.4" cy="346.2" r="1.3" fill="#000"/>
<text x="28.2" y="349.5" font-size="11.8" font-style="italic">C<tspan font-size="8.5" dy="2.4">ξ</tspan></text>
<text x="17.8" y="395.5" font-size="9.8" text-anchor="start" fill="#000"  >0.33</text>
<line x1="26.50" y1="396.50" x2="26.50" y2="405.50" stroke="#666" stroke-width="0.75" />
<polygon points="26.50,405.50 25.10,402.30 27.90,402.30" fill="#222"/>
<text x="48.4" y="377.4" font-size="10.5"><tspan font-style="italic">C</tspan><tspan font-size="7.2" dy="2" font-style="italic">β</tspan><tspan dy="-2"> =</tspan>2.35</text>
<line x1="69.00" y1="380.50" x2="76.50" y2="401.50" stroke="#666" stroke-width="0.75" />
<polygon points="76.50,401.50 74.11,398.96 76.74,398.02" fill="#222"/>
<text x="95.6" y="405.5" font-size="9.8" text-anchor="start" fill="#000"  >1.81</text>
<line x1="94.50" y1="402.30" x2="80.00" y2="402.30" stroke="#666" stroke-width="0.75" />
<polygon points="80.00,402.30 83.20,400.90 83.20,403.70" fill="#222"/>
<text x="99.6" y="381.9" font-size="10.5"><tspan font-style="italic">C</tspan><tspan font-size="7.2" dy="2">⊥</tspan><tspan dy="-2"> =</tspan>29.83</text>
<line x1="123.30" y1="375.00" x2="133.30" y2="341.70" stroke="#666" stroke-width="0.75" />
<polygon points="133.30,341.70 133.72,345.17 131.04,344.36" fill="#222"/>
<rect x="252.8" y="387.9" width="22.6" height="19.3" fill="none" stroke="#f08080" stroke-width="0.8"/>
<rect x="185.3" y="338.6" width="132.3" height="70.7" fill="none" stroke="#c4c4c4" stroke-width="1"/>
<text x="183.8" y="412.4" font-size="9.3" text-anchor="end" fill="#000"  >0</text>
<line x1="185.30" y1="385.73" x2="187.50" y2="385.73" stroke="#999" stroke-width="0.8" />
<line x1="317.60" y1="385.73" x2="315.40" y2="385.73" stroke="#999" stroke-width="0.8" />
<text x="183.8" y="388.8" font-size="9.3" text-anchor="end" fill="#000"  >10</text>
<line x1="185.30" y1="362.17" x2="187.50" y2="362.17" stroke="#999" stroke-width="0.8" />
<line x1="317.60" y1="362.17" x2="315.40" y2="362.17" stroke="#999" stroke-width="0.8" />
<text x="183.8" y="365.3" font-size="9.3" text-anchor="end" fill="#000"  >20</text>
<text x="183.8" y="341.7" font-size="9.3" text-anchor="end" fill="#000"  >30</text>
<line x1="185.30" y1="397.52" x2="186.70" y2="397.52" stroke="#aaa" stroke-width="0.7" />
<line x1="317.60" y1="397.52" x2="316.20" y2="397.52" stroke="#aaa" stroke-width="0.7" />
<line x1="185.30" y1="373.95" x2="186.70" y2="373.95" stroke="#aaa" stroke-width="0.7" />
<line x1="317.60" y1="373.95" x2="316.20" y2="373.95" stroke="#aaa" stroke-width="0.7" />
<line x1="185.30" y1="350.38" x2="186.70" y2="350.38" stroke="#aaa" stroke-width="0.7" />
<line x1="317.60" y1="350.38" x2="316.20" y2="350.38" stroke="#aaa" stroke-width="0.7" />
<text x="186.3" y="418.0" font-size="9.3" text-anchor="middle" fill="#000"  >0</text>
<line x1="207.35" y1="409.30" x2="207.35" y2="407.10" stroke="#999" stroke-width="0.8" />
<line x1="207.35" y1="338.60" x2="207.35" y2="340.80" stroke="#999" stroke-width="0.8" />
<text x="207.4" y="418.0" font-size="9.3" text-anchor="middle" fill="#000"  >5</text>
<line x1="229.40" y1="409.30" x2="229.40" y2="407.10" stroke="#999" stroke-width="0.8" />
<line x1="229.40" y1="338.60" x2="229.40" y2="340.80" stroke="#999" stroke-width="0.8" />
<text x="229.4" y="418.0" font-size="9.3" text-anchor="middle" fill="#000"  >10</text>
<line x1="251.45" y1="409.30" x2="251.45" y2="407.10" stroke="#999" stroke-width="0.8" />
<line x1="251.45" y1="338.60" x2="251.45" y2="340.80" stroke="#999" stroke-width="0.8" />
<text x="251.5" y="418.0" font-size="9.3" text-anchor="middle" fill="#000"  >15</text>
<line x1="273.50" y1="409.30" x2="273.50" y2="407.10" stroke="#999" stroke-width="0.8" />
<line x1="273.50" y1="338.60" x2="273.50" y2="340.80" stroke="#999" stroke-width="0.8" />
<text x="273.5" y="418.0" font-size="9.3" text-anchor="middle" fill="#000"  >20</text>
<line x1="295.55" y1="409.30" x2="295.55" y2="407.10" stroke="#999" stroke-width="0.8" />
<line x1="295.55" y1="338.60" x2="295.55" y2="340.80" stroke="#999" stroke-width="0.8" />
<text x="295.6" y="418.0" font-size="9.3" text-anchor="middle" fill="#000"  >25</text>
<text x="317.6" y="418.0" font-size="9.3" text-anchor="middle" fill="#000"  >30</text>
<text x="252.0" y="427.5" font-size="12.5" text-anchor="middle" fill="#000"  >|<tspan font-style="italic">ξ</tspan>|</text>
<polyline points="189.71,409.30 194.12,409.06 198.53,408.71 202.94,408.40 207.35,408.12 211.76,407.84 216.17,407.53 220.58,407.23 224.99,406.94 229.40,406.66 233.81,406.35 238.22,406.00 242.63,405.65 247.04,405.29 251.45,404.82 255.86,404.33 260.27,400.98 264.68,398.22 269.09,395.51 273.50,392.80 277.91,388.68 282.32,384.56 286.73,380.44 291.14,376.33 295.55,372.21 299.96,368.09 304.37,363.97 308.78,359.85 313.19,355.73 317.60,351.61" stroke="#000" stroke-width="0.9" fill="none" />
<circle cx="189.71" cy="409.30" r="1.35" fill="#000"/>
<circle cx="194.12" cy="409.06" r="1.35" fill="#000"/>
<circle cx="198.53" cy="408.71" r="1.35" fill="#000"/>
<circle cx="202.94" cy="408.40" r="1.35" fill="#000"/>
<circle cx="207.35" cy="408.12" r="1.35" fill="#000"/>
<circle cx="211.76" cy="407.84" r="1.35" fill="#000"/>
<circle cx="216.17" cy="407.53" r="1.35" fill="#000"/>
<circle cx="220.58" cy="407.23" r="1.35" fill="#000"/>
<circle cx="224.99" cy="406.94" r="1.35" fill="#000"/>
<circle cx="229.40" cy="406.66" r="1.35" fill="#000"/>
<circle cx="233.81" cy="406.35" r="1.35" fill="#000"/>
<circle cx="238.22" cy="406.00" r="1.35" fill="#000"/>
<circle cx="242.63" cy="405.65" r="1.35" fill="#000"/>
<circle cx="247.04" cy="405.29" r="1.35" fill="#000"/>
<circle cx="251.45" cy="404.82" r="1.35" fill="#000"/>
<circle cx="255.86" cy="404.33" r="1.35" fill="#000"/>
<circle cx="260.27" cy="400.98" r="1.35" fill="#000"/>
<circle cx="264.68" cy="398.22" r="1.35" fill="#000"/>
<circle cx="269.09" cy="395.51" r="1.35" fill="#000"/>
<circle cx="273.50" cy="392.80" r="1.35" fill="#000"/>
<circle cx="277.91" cy="388.68" r="1.35" fill="#000"/>
<circle cx="282.32" cy="384.56" r="1.35" fill="#000"/>
<circle cx="286.73" cy="380.44" r="1.35" fill="#000"/>
<circle cx="291.14" cy="376.33" r="1.35" fill="#000"/>
<circle cx="295.55" cy="372.21" r="1.35" fill="#000"/>
<circle cx="299.96" cy="368.09" r="1.35" fill="#000"/>
<circle cx="304.37" cy="363.97" r="1.35" fill="#000"/>
<circle cx="308.78" cy="359.85" r="1.35" fill="#000"/>
<circle cx="313.19" cy="355.73" r="1.35" fill="#000"/>
<circle cx="317.60" cy="351.61" r="1.35" fill="#000"/>
<line x1="189.00" y1="346.30" x2="197.00" y2="346.30" stroke="#000" stroke-width="0.9" />
<circle cx="193.0" cy="346.3" r="1.3" fill="#000"/>
<text x="198.8" y="349.6" font-size="11.8" font-style="italic">C<tspan font-size="8.5" dy="2.4">ξ</tspan></text>
<text x="200.6" y="395.0" font-size="9.8" text-anchor="start" fill="#000"  >0.41</text>
<line x1="208.80" y1="396.00" x2="208.80" y2="405.50" stroke="#666" stroke-width="0.75" />
<polygon points="208.80,405.50 207.40,402.30 210.20,402.30" fill="#222"/>
<text x="236.6" y="379.6" font-size="10.5"><tspan font-style="italic">C</tspan><tspan font-size="7.2" dy="2" font-style="italic">β</tspan><tspan dy="-2"> =</tspan>2.11</text>
<line x1="255.00" y1="382.00" x2="255.00" y2="402.50" stroke="#666" stroke-width="0.75" />
<polygon points="255.00,402.50 253.60,399.30 256.40,399.30" fill="#222"/>
<text x="285.0" y="407.3" font-size="9.8" text-anchor="start" fill="#000"  >1.42</text>
<line x1="284.00" y1="403.90" x2="259.00" y2="403.90" stroke="#666" stroke-width="0.75" />
<polygon points="259.00,403.90 262.20,402.50 262.20,405.30" fill="#222"/>
<text x="239.4" y="354.1" font-size="10.5"><tspan font-style="italic">C</tspan><tspan font-size="7.2" dy="2">⊥</tspan><tspan dy="-2"> =</tspan>24.48</text>
<line x1="285.00" y1="351.00" x2="313.50" y2="351.00" stroke="#666" stroke-width="0.75" />
<polygon points="313.50,351.00 310.30,352.40 310.30,349.60" fill="#222"/>
<rect x="423.4" y="394.3" width="13.8" height="12.9" fill="none" stroke="#f08080" stroke-width="0.8"/>
<rect x="356.1" y="338.6" width="132.3" height="70.7" fill="none" stroke="#c4c4c4" stroke-width="1"/>
<text x="354.6" y="412.4" font-size="9.3" text-anchor="end" fill="#000"  >0</text>
<line x1="356.10" y1="385.73" x2="358.30" y2="385.73" stroke="#999" stroke-width="0.8" />
<line x1="488.40" y1="385.73" x2="486.20" y2="385.73" stroke="#999" stroke-width="0.8" />
<text x="354.6" y="388.8" font-size="9.3" text-anchor="end" fill="#000"  >10</text>
<line x1="356.10" y1="362.17" x2="358.30" y2="362.17" stroke="#999" stroke-width="0.8" />
<line x1="488.40" y1="362.17" x2="486.20" y2="362.17" stroke="#999" stroke-width="0.8" />
<text x="354.6" y="365.3" font-size="9.3" text-anchor="end" fill="#000"  >20</text>
<text x="354.6" y="341.7" font-size="9.3" text-anchor="end" fill="#000"  >30</text>
<line x1="356.10" y1="397.52" x2="357.50" y2="397.52" stroke="#aaa" stroke-width="0.7" />
<line x1="488.40" y1="397.52" x2="487.00" y2="397.52" stroke="#aaa" stroke-width="0.7" />
<line x1="356.10" y1="373.95" x2="357.50" y2="373.95" stroke="#aaa" stroke-width="0.7" />
<line x1="488.40" y1="373.95" x2="487.00" y2="373.95" stroke="#aaa" stroke-width="0.7" />
<line x1="356.10" y1="350.38" x2="357.50" y2="350.38" stroke="#aaa" stroke-width="0.7" />
<line x1="488.40" y1="350.38" x2="487.00" y2="350.38" stroke="#aaa" stroke-width="0.7" />
<text x="357.1" y="418.0" font-size="9.3" text-anchor="middle" fill="#000"  >0</text>
<line x1="378.15" y1="409.30" x2="378.15" y2="407.10" stroke="#999" stroke-width="0.8" />
<line x1="378.15" y1="338.60" x2="378.15" y2="340.80" stroke="#999" stroke-width="0.8" />
<text x="378.2" y="418.0" font-size="9.3" text-anchor="middle" fill="#000"  >5</text>
<line x1="400.20" y1="409.30" x2="400.20" y2="407.10" stroke="#999" stroke-width="0.8" />
<line x1="400.20" y1="338.60" x2="400.20" y2="340.80" stroke="#999" stroke-width="0.8" />
<text x="400.2" y="418.0" font-size="9.3" text-anchor="middle" fill="#000"  >10</text>
<line x1="422.25" y1="409.30" x2="422.25" y2="407.10" stroke="#999" stroke-width="0.8" />
<line x1="422.25" y1="338.60" x2="422.25" y2="340.80" stroke="#999" stroke-width="0.8" />
<text x="422.2" y="418.0" font-size="9.3" text-anchor="middle" fill="#000"  >15</text>
<line x1="444.30" y1="409.30" x2="444.30" y2="407.10" stroke="#999" stroke-width="0.8" />
<line x1="444.30" y1="338.60" x2="444.30" y2="340.80" stroke="#999" stroke-width="0.8" />
<text x="444.3" y="418.0" font-size="9.3" text-anchor="middle" fill="#000"  >20</text>
<line x1="466.35" y1="409.30" x2="466.35" y2="407.10" stroke="#999" stroke-width="0.8" />
<line x1="466.35" y1="338.60" x2="466.35" y2="340.80" stroke="#999" stroke-width="0.8" />
<text x="466.4" y="418.0" font-size="9.3" text-anchor="middle" fill="#000"  >25</text>
<text x="488.4" y="418.0" font-size="9.3" text-anchor="middle" fill="#000"  >30</text>
<text x="422.8" y="427.5" font-size="12.5" text-anchor="middle" fill="#000"  >|<tspan font-style="italic">ξ</tspan>|</text>
<polyline points="360.51,409.30 364.92,408.95 369.33,408.59 373.74,408.24 378.15,407.89 382.56,407.53 386.97,407.18 391.38,406.83 395.79,406.47 400.20,406.00 404.61,405.65 409.02,405.29 413.43,405.06 417.84,404.82 422.25,404.59 426.66,404.35 431.07,403.41 435.48,401.76 439.89,398.27 444.30,394.11 448.71,389.95 453.12,385.78 457.53,381.62 461.94,377.46 466.35,373.29 470.76,369.13 475.17,364.97 479.58,360.81 483.99,356.64 488.40,352.48" stroke="#000" stroke-width="0.9" fill="none" />
<circle cx="360.51" cy="409.30" r="1.35" fill="#000"/>
<circle cx="364.92" cy="408.95" r="1.35" fill="#000"/>
<circle cx="369.33" cy="408.59" r="1.35" fill="#000"/>
<circle cx="373.74" cy="408.24" r="1.35" fill="#000"/>
<circle cx="378.15" cy="407.89" r="1.35" fill="#000"/>
<circle cx="382.56" cy="407.53" r="1.35" fill="#000"/>
<circle cx="386.97" cy="407.18" r="1.35" fill="#000"/>
<circle cx="391.38" cy="406.83" r="1.35" fill="#000"/>
<circle cx="395.79" cy="406.47" r="1.35" fill="#000"/>
<circle cx="400.20" cy="406.00" r="1.35" fill="#000"/>
<circle cx="404.61" cy="405.65" r="1.35" fill="#000"/>
<circle cx="409.02" cy="405.29" r="1.35" fill="#000"/>
<circle cx="413.43" cy="405.06" r="1.35" fill="#000"/>
<circle cx="417.84" cy="404.82" r="1.35" fill="#000"/>
<circle cx="422.25" cy="404.59" r="1.35" fill="#000"/>
<circle cx="426.66" cy="404.35" r="1.35" fill="#000"/>
<circle cx="431.07" cy="403.41" r="1.35" fill="#000"/>
<circle cx="435.48" cy="401.76" r="1.35" fill="#000"/>
<circle cx="439.89" cy="398.27" r="1.35" fill="#000"/>
<circle cx="444.30" cy="394.11" r="1.35" fill="#000"/>
<circle cx="448.71" cy="389.95" r="1.35" fill="#000"/>
<circle cx="453.12" cy="385.78" r="1.35" fill="#000"/>
<circle cx="457.53" cy="381.62" r="1.35" fill="#000"/>
<circle cx="461.94" cy="377.46" r="1.35" fill="#000"/>
<circle cx="466.35" cy="373.29" r="1.35" fill="#000"/>
<circle cx="470.76" cy="369.13" r="1.35" fill="#000"/>
<circle cx="475.17" cy="364.97" r="1.35" fill="#000"/>
<circle cx="479.58" cy="360.81" r="1.35" fill="#000"/>
<circle cx="483.99" cy="356.64" r="1.35" fill="#000"/>
<circle cx="488.40" cy="352.48" r="1.35" fill="#000"/>
<line x1="359.30" y1="346.30" x2="367.30" y2="346.30" stroke="#000" stroke-width="0.9" />
<circle cx="363.3" cy="346.3" r="1.3" fill="#000"/>
<text x="369.1" y="349.6" font-size="11.8" font-style="italic">C<tspan font-size="8.5" dy="2.4">ξ</tspan></text>
<text x="400.6" y="395.0" font-size="9.8" text-anchor="start" fill="#000"  >0.68</text>
<line x1="416.00" y1="394.50" x2="425.50" y2="401.50" stroke="#666" stroke-width="0.75" />
<polygon points="425.50,401.50 422.09,400.73 423.75,398.47" fill="#222"/>
<text x="415.4" y="381.9" font-size="10.5"><tspan font-style="italic">C</tspan><tspan font-size="7.2" dy="2" font-style="italic">β</tspan><tspan dy="-2"> =</tspan>3.20</text>
<line x1="434.30" y1="383.50" x2="434.30" y2="399.00" stroke="#666" stroke-width="0.75" />
<polygon points="434.30,399.00 432.90,395.80 435.70,395.80" fill="#222"/>
<text x="453.4" y="404.6" font-size="9.8" text-anchor="start" fill="#000"  >1.48</text>
<line x1="452.50" y1="401.20" x2="438.00" y2="401.20" stroke="#666" stroke-width="0.75" />
<polygon points="438.00,401.20 441.20,399.80 441.20,402.60" fill="#222"/>
<text x="410.6" y="354.1" font-size="10.5"><tspan font-style="italic">C</tspan><tspan font-size="7.2" dy="2">⊥</tspan><tspan dy="-2"> =</tspan>24.11</text>
<line x1="455.50" y1="351.00" x2="484.00" y2="351.00" stroke="#666" stroke-width="0.75" />
<polygon points="484.00,351.00 480.80,352.40 480.80,349.60" fill="#222"/>
<rect x="580.6" y="397.6" width="21.4" height="10.1" fill="none" stroke="#f08080" stroke-width="0.8"/>
<rect x="526.4" y="338.6" width="132.3" height="70.7" fill="none" stroke="#c4c4c4" stroke-width="1"/>
<text x="524.9" y="412.4" font-size="9.3" text-anchor="end" fill="#000"  >0</text>
<line x1="526.40" y1="385.73" x2="528.60" y2="385.73" stroke="#999" stroke-width="0.8" />
<line x1="658.70" y1="385.73" x2="656.50" y2="385.73" stroke="#999" stroke-width="0.8" />
<text x="524.9" y="388.8" font-size="9.3" text-anchor="end" fill="#000"  >10</text>
<line x1="526.40" y1="362.17" x2="528.60" y2="362.17" stroke="#999" stroke-width="0.8" />
<line x1="658.70" y1="362.17" x2="656.50" y2="362.17" stroke="#999" stroke-width="0.8" />
<text x="524.9" y="365.3" font-size="9.3" text-anchor="end" fill="#000"  >20</text>
<text x="524.9" y="341.7" font-size="9.3" text-anchor="end" fill="#000"  >30</text>
<line x1="526.40" y1="397.52" x2="527.80" y2="397.52" stroke="#aaa" stroke-width="0.7" />
<line x1="658.70" y1="397.52" x2="657.30" y2="397.52" stroke="#aaa" stroke-width="0.7" />
<line x1="526.40" y1="373.95" x2="527.80" y2="373.95" stroke="#aaa" stroke-width="0.7" />
<line x1="658.70" y1="373.95" x2="657.30" y2="373.95" stroke="#aaa" stroke-width="0.7" />
<line x1="526.40" y1="350.38" x2="527.80" y2="350.38" stroke="#aaa" stroke-width="0.7" />
<line x1="658.70" y1="350.38" x2="657.30" y2="350.38" stroke="#aaa" stroke-width="0.7" />
<text x="527.4" y="418.0" font-size="9.3" text-anchor="middle" fill="#000"  >0</text>
<line x1="552.86" y1="409.30" x2="552.86" y2="407.10" stroke="#999" stroke-width="0.8" />
<line x1="552.86" y1="338.60" x2="552.86" y2="340.80" stroke="#999" stroke-width="0.8" />
<text x="552.9" y="418.0" font-size="9.3" text-anchor="middle" fill="#000"  >5</text>
<line x1="579.32" y1="409.30" x2="579.32" y2="407.10" stroke="#999" stroke-width="0.8" />
<line x1="579.32" y1="338.60" x2="579.32" y2="340.80" stroke="#999" stroke-width="0.8" />
<text x="579.3" y="418.0" font-size="9.3" text-anchor="middle" fill="#000"  >10</text>
<line x1="605.78" y1="409.30" x2="605.78" y2="407.10" stroke="#999" stroke-width="0.8" />
<line x1="605.78" y1="338.60" x2="605.78" y2="340.80" stroke="#999" stroke-width="0.8" />
<text x="605.8" y="418.0" font-size="9.3" text-anchor="middle" fill="#000"  >15</text>
<line x1="632.24" y1="409.30" x2="632.24" y2="407.10" stroke="#999" stroke-width="0.8" />
<line x1="632.24" y1="338.60" x2="632.24" y2="340.80" stroke="#999" stroke-width="0.8" />
<text x="632.2" y="418.0" font-size="9.3" text-anchor="middle" fill="#000"  >20</text>
<text x="658.7" y="418.0" font-size="9.3" text-anchor="middle" fill="#000"  >25</text>
<text x="593.0" y="427.5" font-size="12.5" text-anchor="middle" fill="#000"  >|<tspan font-style="italic">ξ</tspan>|</text>
<polyline points="531.69,409.30 536.98,409.06 542.28,408.78 547.57,408.48 552.86,408.12 558.15,407.77 563.44,407.37 568.74,406.94 574.03,406.52 579.32,406.05 584.61,405.53 589.90,404.94 595.20,403.88 600.49,402.84 605.78,399.26 611.07,395.22 616.36,391.18 621.66,387.14 626.95,383.10 632.24,379.06 637.53,375.02 642.82,370.98 648.12,366.94 653.41,362.90" stroke="#000" stroke-width="0.9" fill="none" />
<circle cx="531.69" cy="409.30" r="1.35" fill="#000"/>
<circle cx="536.98" cy="409.06" r="1.35" fill="#000"/>
<circle cx="542.28" cy="408.78" r="1.35" fill="#000"/>
<circle cx="547.57" cy="408.48" r="1.35" fill="#000"/>
<circle cx="552.86" cy="408.12" r="1.35" fill="#000"/>
<circle cx="558.15" cy="407.77" r="1.35" fill="#000"/>
<circle cx="563.44" cy="407.37" r="1.35" fill="#000"/>
<circle cx="568.74" cy="406.94" r="1.35" fill="#000"/>
<circle cx="574.03" cy="406.52" r="1.35" fill="#000"/>
<circle cx="579.32" cy="406.05" r="1.35" fill="#000"/>
<circle cx="584.61" cy="405.53" r="1.35" fill="#000"/>
<circle cx="589.90" cy="404.94" r="1.35" fill="#000"/>
<circle cx="595.20" cy="403.88" r="1.35" fill="#000"/>
<circle cx="600.49" cy="402.84" r="1.35" fill="#000"/>
<circle cx="605.78" cy="399.26" r="1.35" fill="#000"/>
<circle cx="611.07" cy="395.22" r="1.35" fill="#000"/>
<circle cx="616.36" cy="391.18" r="1.35" fill="#000"/>
<circle cx="621.66" cy="387.14" r="1.35" fill="#000"/>
<circle cx="626.95" cy="383.10" r="1.35" fill="#000"/>
<circle cx="632.24" cy="379.06" r="1.35" fill="#000"/>
<circle cx="637.53" cy="375.02" r="1.35" fill="#000"/>
<circle cx="642.82" cy="370.98" r="1.35" fill="#000"/>
<circle cx="648.12" cy="366.94" r="1.35" fill="#000"/>
<circle cx="653.41" cy="362.90" r="1.35" fill="#000"/>
<line x1="529.70" y1="346.50" x2="537.70" y2="346.50" stroke="#000" stroke-width="0.9" />
<circle cx="533.7" cy="346.5" r="1.3" fill="#000"/>
<text x="539.5" y="349.8" font-size="11.8" font-style="italic">C<tspan font-size="8.5" dy="2.4">ξ</tspan></text>
<text x="562.9" y="394.0" font-size="9.8" text-anchor="start" fill="#000"  >0.61</text>
<line x1="581.00" y1="393.50" x2="588.00" y2="401.50" stroke="#666" stroke-width="0.75" />
<polygon points="588.00,401.50 584.84,400.01 586.95,398.17" fill="#222"/>
<text x="580.6" y="375.2" font-size="10.5"><tspan font-style="italic">C</tspan><tspan font-size="7.2" dy="2" font-style="italic">β</tspan><tspan dy="-2"> =</tspan>2.74</text>
<line x1="600.20" y1="377.00" x2="600.20" y2="400.50" stroke="#666" stroke-width="0.75" />
<polygon points="600.20,400.50 598.80,397.30 601.60,397.30" fill="#222"/>
<text x="619.6" y="405.8" font-size="9.8" text-anchor="start" fill="#000"  >1.52</text>
<line x1="618.50" y1="402.40" x2="605.00" y2="402.40" stroke="#666" stroke-width="0.75" />
<polygon points="605.00,402.40 608.20,401.00 608.20,403.80" fill="#222"/>
<text x="580.6" y="354.6" font-size="10.5"><tspan font-style="italic">C</tspan><tspan font-size="7.2" dy="2">⊥</tspan><tspan dy="-2"> =</tspan>19.69</text>
<line x1="626.50" y1="352.50" x2="651.80" y2="361.30" stroke="#666" stroke-width="0.75" />
<polygon points="651.80,361.30 648.32,361.57 649.24,358.93" fill="#222"/>
<line x1="13.30" y1="456.30" x2="147.00" y2="456.30" stroke="#b9dcc6" stroke-width="1" />
<line x1="13.30" y1="456.30" x2="13.30" y2="528.10" stroke="#b9dcc6" stroke-width="1" />
<line x1="147.00" y1="456.30" x2="147.00" y2="528.10" stroke="#f7d9a8" stroke-width="1" />
<line x1="13.30" y1="528.10" x2="147.00" y2="528.10" stroke="#f7d9a8" stroke-width="1" />
<line x1="40.04" y1="456.30" x2="40.04" y2="458.50" stroke="#b9dcc6" stroke-width="0.9" />
<line x1="40.04" y1="528.10" x2="40.04" y2="525.90" stroke="#f7d9a8" stroke-width="0.9" />
<line x1="66.78" y1="456.30" x2="66.78" y2="458.50" stroke="#b9dcc6" stroke-width="0.9" />
<line x1="66.78" y1="528.10" x2="66.78" y2="525.90" stroke="#f7d9a8" stroke-width="0.9" />
<line x1="93.52" y1="456.30" x2="93.52" y2="458.50" stroke="#b9dcc6" stroke-width="0.9" />
<line x1="93.52" y1="528.10" x2="93.52" y2="525.90" stroke="#f7d9a8" stroke-width="0.9" />
<line x1="120.26" y1="456.30" x2="120.26" y2="458.50" stroke="#b9dcc6" stroke-width="0.9" />
<line x1="120.26" y1="528.10" x2="120.26" y2="525.90" stroke="#f7d9a8" stroke-width="0.9" />
<line x1="13.30" y1="504.17" x2="15.50" y2="504.17" stroke="#b9dcc6" stroke-width="0.9" />
<line x1="147.00" y1="504.17" x2="144.80" y2="504.17" stroke="#f7d9a8" stroke-width="0.9" />
<line x1="13.30" y1="480.23" x2="15.50" y2="480.23" stroke="#b9dcc6" stroke-width="0.9" />
<line x1="147.00" y1="480.23" x2="144.80" y2="480.23" stroke="#f7d9a8" stroke-width="0.9" />
<text x="13.3" y="454.2" font-size="9.4" text-anchor="middle" fill="#2b9058"  stroke="#2b9058" stroke-width="0.3">1</text>
<text x="147.0" y="538.6" font-size="9.4" text-anchor="middle" fill="#f0a232"  stroke="#f0a232" stroke-width="0.3">1</text>
<text x="40.0" y="454.2" font-size="9.4" text-anchor="middle" fill="#2b9058"  stroke="#2b9058" stroke-width="0.3">2</text>
<text x="120.3" y="538.6" font-size="9.4" text-anchor="middle" fill="#f0a232"  stroke="#f0a232" stroke-width="0.3">2</text>
<text x="66.8" y="454.2" font-size="9.4" text-anchor="middle" fill="#2b9058"  stroke="#2b9058" stroke-width="0.3">3</text>
<text x="93.5" y="538.6" font-size="9.4" text-anchor="middle" fill="#f0a232"  stroke="#f0a232" stroke-width="0.3">3</text>
<text x="93.5" y="454.2" font-size="9.4" text-anchor="middle" fill="#2b9058"  stroke="#2b9058" stroke-width="0.3">4</text>
<text x="66.8" y="538.6" font-size="9.4" text-anchor="middle" fill="#f0a232"  stroke="#f0a232" stroke-width="0.3">4</text>
<text x="120.3" y="454.2" font-size="9.4" text-anchor="middle" fill="#2b9058"  stroke="#2b9058" stroke-width="0.3">5</text>
<text x="40.0" y="538.6" font-size="9.4" text-anchor="middle" fill="#f0a232"  stroke="#f0a232" stroke-width="0.3">5</text>
<text x="147.0" y="454.2" font-size="9.4" text-anchor="middle" fill="#2b9058"  stroke="#2b9058" stroke-width="0.3">6</text>
<text x="13.3" y="538.6" font-size="9.4" text-anchor="middle" fill="#f0a232"  stroke="#f0a232" stroke-width="0.3">6</text>
<text x="9.7" y="531.3" font-size="9.4" text-anchor="end" fill="#2b9058"  stroke="#2b9058" stroke-width="0.3">0</text>
<text x="151.4" y="531.3" font-size="9.4" text-anchor="start" fill="#f0a232"  stroke="#f0a232" stroke-width="0.3">0</text>
<text x="9.7" y="507.4" font-size="9.4" text-anchor="end" fill="#2b9058"  stroke="#2b9058" stroke-width="0.3">2</text>
<text x="151.4" y="507.4" font-size="9.4" text-anchor="start" fill="#f0a232"  stroke="#f0a232" stroke-width="0.3">2</text>
<text x="9.7" y="483.4" font-size="9.4" text-anchor="end" fill="#2b9058"  stroke="#2b9058" stroke-width="0.3">4</text>
<text x="151.4" y="483.4" font-size="9.4" text-anchor="start" fill="#f0a232"  stroke="#f0a232" stroke-width="0.3">4</text>
<text x="9.7" y="459.5" font-size="9.4" text-anchor="end" fill="#2b9058"  stroke="#2b9058" stroke-width="0.3">6</text>
<text x="151.4" y="459.5" font-size="9.4" text-anchor="start" fill="#f0a232"  stroke="#f0a232" stroke-width="0.3">6</text>
<text x="80.6" y="446.3" font-size="13" font-style="italic" fill="#2b9058" text-anchor="middle">k</text>
<text x="78.6" y="550.0" font-size="13" font-style="italic" fill="#f0a232" text-anchor="middle">k′</text>
<polyline points="147.00,461.09 120.26,485.02 93.52,497.59 66.78,499.38 40.04,505.36 13.30,528.10" stroke="#f0a232" stroke-width="1.3" fill="none" />
<path d="M145.70,459.79L148.30,462.39M145.70,462.39L148.30,459.79" stroke="#f0a232" stroke-width="0.8"/>
<path d="M118.96,483.72L121.56,486.32M118.96,486.32L121.56,483.72" stroke="#f0a232" stroke-width="0.8"/>
<path d="M92.22,496.29L94.82,498.89M92.22,498.89L94.82,496.29" stroke="#f0a232" stroke-width="0.8"/>
<path d="M65.48,498.08L68.08,500.68M65.48,500.68L68.08,498.08" stroke="#f0a232" stroke-width="0.8"/>
<path d="M38.74,504.06L41.34,506.66M38.74,506.66L41.34,504.06" stroke="#f0a232" stroke-width="0.8"/>
<path d="M12.00,526.80L14.60,529.40M12.00,529.40L14.60,526.80" stroke="#f0a232" stroke-width="0.8"/>
<polyline points="40.04,505.36 66.78,491.00 93.52,479.04 120.26,469.46 147.00,461.09" stroke="#2b9058" stroke-width="1.3" fill="none" />
<path d="M38.74,504.06L41.34,506.66M38.74,506.66L41.34,504.06" stroke="#2b9058" stroke-width="0.8"/>
<path d="M65.48,489.70L68.08,492.30M65.48,492.30L68.08,489.70" stroke="#2b9058" stroke-width="0.8"/>
<path d="M92.22,477.74L94.82,480.34M92.22,480.34L94.82,477.74" stroke="#2b9058" stroke-width="0.8"/>
<path d="M118.96,468.16L121.56,470.76M118.96,470.76L121.56,468.16" stroke="#2b9058" stroke-width="0.8"/>
<path d="M145.70,459.79L148.30,462.39M145.70,462.39L148.30,459.79" stroke="#2b9058" stroke-width="0.8"/>
<line x1="17.10" y1="464.60" x2="26.10" y2="464.60" stroke="#2b9058" stroke-width="0.9" />
<rect x="20.6" y="463.5" width="2.2" height="2.2" fill="#2b9058"/>
<text x="27.6" y="468.9" font-size="13.2" fill="#2b9058"><tspan font-style="italic">C</tspan><tspan font-size="9" dy="2.6"><tspan font-style="italic">k</tspan>−part,<tspan font-style="italic">X</tspan><tspan font-size="6" dy="1.2">in</tspan></tspan></text>
<line x1="17.10" y1="475.30" x2="26.10" y2="475.30" stroke="#f0a232" stroke-width="0.9" />
<rect x="20.6" y="474.2" width="2.2" height="2.2" fill="#f0a232"/>
<text x="27.6" y="479.6" font-size="13.2" fill="#f0a232"><tspan font-style="italic">C</tspan><tspan font-size="9" dy="2.6"><tspan font-style="italic">k′</tspan>−prod,<tspan font-style="italic">X</tspan><tspan font-size="6" dy="1.2">in</tspan></tspan></text>
<line x1="184.10" y1="456.30" x2="317.60" y2="456.30" stroke="#b9dcc6" stroke-width="1" />
<line x1="184.10" y1="456.30" x2="184.10" y2="528.10" stroke="#b9dcc6" stroke-width="1" />
<line x1="317.60" y1="456.30" x2="317.60" y2="528.10" stroke="#f7d9a8" stroke-width="1" />
<line x1="184.10" y1="528.10" x2="317.60" y2="528.10" stroke="#f7d9a8" stroke-width="1" />
<line x1="217.47" y1="456.30" x2="217.47" y2="458.50" stroke="#b9dcc6" stroke-width="0.9" />
<line x1="217.47" y1="528.10" x2="217.47" y2="525.90" stroke="#f7d9a8" stroke-width="0.9" />
<line x1="250.85" y1="456.30" x2="250.85" y2="458.50" stroke="#b9dcc6" stroke-width="0.9" />
<line x1="250.85" y1="528.10" x2="250.85" y2="525.90" stroke="#f7d9a8" stroke-width="0.9" />
<line x1="284.23" y1="456.30" x2="284.23" y2="458.50" stroke="#b9dcc6" stroke-width="0.9" />
<line x1="284.23" y1="528.10" x2="284.23" y2="525.90" stroke="#f7d9a8" stroke-width="0.9" />
<line x1="184.10" y1="504.17" x2="186.30" y2="504.17" stroke="#b9dcc6" stroke-width="0.9" />
<line x1="317.60" y1="504.17" x2="315.40" y2="504.17" stroke="#f7d9a8" stroke-width="0.9" />
<line x1="184.10" y1="480.23" x2="186.30" y2="480.23" stroke="#b9dcc6" stroke-width="0.9" />
<line x1="317.60" y1="480.23" x2="315.40" y2="480.23" stroke="#f7d9a8" stroke-width="0.9" />
<text x="184.1" y="454.2" font-size="9.4" text-anchor="middle" fill="#2b9058"  stroke="#2b9058" stroke-width="0.3">1</text>
<text x="317.6" y="538.6" font-size="9.4" text-anchor="middle" fill="#f0a232"  stroke="#f0a232" stroke-width="0.3">1</text>
<text x="217.5" y="454.2" font-size="9.4" text-anchor="middle" fill="#2b9058"  stroke="#2b9058" stroke-width="0.3">2</text>
<text x="284.2" y="538.6" font-size="9.4" text-anchor="middle" fill="#f0a232"  stroke="#f0a232" stroke-width="0.3">2</text>
<text x="250.9" y="454.2" font-size="9.4" text-anchor="middle" fill="#2b9058"  stroke="#2b9058" stroke-width="0.3">3</text>
<text x="250.9" y="538.6" font-size="9.4" text-anchor="middle" fill="#f0a232"  stroke="#f0a232" stroke-width="0.3">3</text>
<text x="284.2" y="454.2" font-size="9.4" text-anchor="middle" fill="#2b9058"  stroke="#2b9058" stroke-width="0.3">4</text>
<text x="217.5" y="538.6" font-size="9.4" text-anchor="middle" fill="#f0a232"  stroke="#f0a232" stroke-width="0.3">4</text>
<text x="317.6" y="454.2" font-size="9.4" text-anchor="middle" fill="#2b9058"  stroke="#2b9058" stroke-width="0.3">5</text>
<text x="184.1" y="538.6" font-size="9.4" text-anchor="middle" fill="#f0a232"  stroke="#f0a232" stroke-width="0.3">5</text>
<text x="180.5" y="531.3" font-size="9.4" text-anchor="end" fill="#2b9058"  stroke="#2b9058" stroke-width="0.3">0</text>
<text x="322.0" y="531.3" font-size="9.4" text-anchor="start" fill="#f0a232"  stroke="#f0a232" stroke-width="0.3">0</text>
<text x="180.5" y="507.4" font-size="9.4" text-anchor="end" fill="#2b9058"  stroke="#2b9058" stroke-width="0.3">2</text>
<text x="322.0" y="507.4" font-size="9.4" text-anchor="start" fill="#f0a232"  stroke="#f0a232" stroke-width="0.3">2</text>
<text x="180.5" y="483.4" font-size="9.4" text-anchor="end" fill="#2b9058"  stroke="#2b9058" stroke-width="0.3">4</text>
<text x="322.0" y="483.4" font-size="9.4" text-anchor="start" fill="#f0a232"  stroke="#f0a232" stroke-width="0.3">4</text>
<text x="180.5" y="459.5" font-size="9.4" text-anchor="end" fill="#2b9058"  stroke="#2b9058" stroke-width="0.3">6</text>
<text x="322.0" y="459.5" font-size="9.4" text-anchor="start" fill="#f0a232"  stroke="#f0a232" stroke-width="0.3">6</text>
<text x="250.8" y="446.3" font-size="13" font-style="italic" fill="#2b9058" text-anchor="middle">k</text>
<text x="248.8" y="550.0" font-size="13" font-style="italic" fill="#f0a232" text-anchor="middle">k′</text>
<polyline points="317.60,475.45 284.23,498.18 250.85,506.56 217.47,510.75 184.10,528.10" stroke="#f0a232" stroke-width="1.3" fill="none" />
<path d="M316.30,474.15L318.90,476.75M316.30,476.75L318.90,474.15" stroke="#f0a232" stroke-width="0.8"/>
<path d="M282.93,496.88L285.53,499.48M282.93,499.48L285.53,496.88" stroke="#f0a232" stroke-width="0.8"/>
<path d="M249.55,505.26L252.15,507.86M249.55,507.86L252.15,505.26" stroke="#f0a232" stroke-width="0.8"/>
<path d="M216.17,509.45L218.78,512.05M216.17,512.05L218.78,509.45" stroke="#f0a232" stroke-width="0.8"/>
<path d="M182.80,526.80L185.40,529.40M182.80,529.40L185.40,526.80" stroke="#f0a232" stroke-width="0.8"/>
<polyline points="217.47,510.75 250.85,498.18 284.23,486.81 317.60,475.45" stroke="#2b9058" stroke-width="1.3" fill="none" />
<path d="M216.17,509.45L218.78,512.05M216.17,512.05L218.78,509.45" stroke="#2b9058" stroke-width="0.8"/>
<path d="M249.55,496.88L252.15,499.48M249.55,499.48L252.15,496.88" stroke="#2b9058" stroke-width="0.8"/>
<path d="M282.93,485.51L285.53,488.12M282.93,488.12L285.53,485.51" stroke="#2b9058" stroke-width="0.8"/>
<path d="M316.30,474.15L318.90,476.75M316.30,476.75L318.90,474.15" stroke="#2b9058" stroke-width="0.8"/>
<line x1="187.90" y1="464.60" x2="196.90" y2="464.60" stroke="#2b9058" stroke-width="0.9" />
<rect x="191.4" y="463.5" width="2.2" height="2.2" fill="#2b9058"/>
<text x="198.4" y="468.9" font-size="13.2" fill="#2b9058"><tspan font-style="italic">C</tspan><tspan font-size="9" dy="2.6"><tspan font-style="italic">k</tspan>−part,<tspan font-style="italic">X</tspan><tspan font-size="6" dy="1.2">in</tspan></tspan></text>
<line x1="187.90" y1="475.30" x2="196.90" y2="475.30" stroke="#f0a232" stroke-width="0.9" />
<rect x="191.4" y="474.2" width="2.2" height="2.2" fill="#f0a232"/>
<text x="198.4" y="479.6" font-size="13.2" fill="#f0a232"><tspan font-style="italic">C</tspan><tspan font-size="9" dy="2.6"><tspan font-style="italic">k′</tspan>−prod,<tspan font-style="italic">X</tspan><tspan font-size="6" dy="1.2">in</tspan></tspan></text>
<line x1="354.60" y1="456.30" x2="488.20" y2="456.30" stroke="#b9dcc6" stroke-width="1" />
<line x1="354.60" y1="456.30" x2="354.60" y2="528.10" stroke="#b9dcc6" stroke-width="1" />
<line x1="488.20" y1="456.30" x2="488.20" y2="528.10" stroke="#f7d9a8" stroke-width="1" />
<line x1="354.60" y1="528.10" x2="488.20" y2="528.10" stroke="#f7d9a8" stroke-width="1" />
<line x1="388.00" y1="456.30" x2="388.00" y2="458.50" stroke="#b9dcc6" stroke-width="0.9" />
<line x1="388.00" y1="528.10" x2="388.00" y2="525.90" stroke="#f7d9a8" stroke-width="0.9" />
<line x1="421.40" y1="456.30" x2="421.40" y2="458.50" stroke="#b9dcc6" stroke-width="0.9" />
<line x1="421.40" y1="528.10" x2="421.40" y2="525.90" stroke="#f7d9a8" stroke-width="0.9" />
<line x1="454.80" y1="456.30" x2="454.80" y2="458.50" stroke="#b9dcc6" stroke-width="0.9" />
<line x1="454.80" y1="528.10" x2="454.80" y2="525.90" stroke="#f7d9a8" stroke-width="0.9" />
<line x1="354.60" y1="504.17" x2="356.80" y2="504.17" stroke="#b9dcc6" stroke-width="0.9" />
<line x1="488.20" y1="504.17" x2="486.00" y2="504.17" stroke="#f7d9a8" stroke-width="0.9" />
<line x1="354.60" y1="480.23" x2="356.80" y2="480.23" stroke="#b9dcc6" stroke-width="0.9" />
<line x1="488.20" y1="480.23" x2="486.00" y2="480.23" stroke="#f7d9a8" stroke-width="0.9" />
<text x="354.6" y="454.2" font-size="9.4" text-anchor="middle" fill="#2b9058"  stroke="#2b9058" stroke-width="0.3">1</text>
<text x="488.2" y="538.6" font-size="9.4" text-anchor="middle" fill="#f0a232"  stroke="#f0a232" stroke-width="0.3">1</text>
<text x="388.0" y="454.2" font-size="9.4" text-anchor="middle" fill="#2b9058"  stroke="#2b9058" stroke-width="0.3">2</text>
<text x="454.8" y="538.6" font-size="9.4" text-anchor="middle" fill="#f0a232"  stroke="#f0a232" stroke-width="0.3">2</text>
<text x="421.4" y="454.2" font-size="9.4" text-anchor="middle" fill="#2b9058"  stroke="#2b9058" stroke-width="0.3">3</text>
<text x="421.4" y="538.6" font-size="9.4" text-anchor="middle" fill="#f0a232"  stroke="#f0a232" stroke-width="0.3">3</text>
<text x="454.8" y="454.2" font-size="9.4" text-anchor="middle" fill="#2b9058"  stroke="#2b9058" stroke-width="0.3">4</text>
<text x="388.0" y="538.6" font-size="9.4" text-anchor="middle" fill="#f0a232"  stroke="#f0a232" stroke-width="0.3">4</text>
<text x="488.2" y="454.2" font-size="9.4" text-anchor="middle" fill="#2b9058"  stroke="#2b9058" stroke-width="0.3">5</text>
<text x="354.6" y="538.6" font-size="9.4" text-anchor="middle" fill="#f0a232"  stroke="#f0a232" stroke-width="0.3">5</text>
<text x="351.0" y="531.3" font-size="9.4" text-anchor="end" fill="#2b9058"  stroke="#2b9058" stroke-width="0.3">0</text>
<text x="492.6" y="531.3" font-size="9.4" text-anchor="start" fill="#f0a232"  stroke="#f0a232" stroke-width="0.3">0</text>
<text x="351.0" y="507.4" font-size="9.4" text-anchor="end" fill="#2b9058"  stroke="#2b9058" stroke-width="0.3">2</text>
<text x="492.6" y="507.4" font-size="9.4" text-anchor="start" fill="#f0a232"  stroke="#f0a232" stroke-width="0.3">2</text>
<text x="351.0" y="483.4" font-size="9.4" text-anchor="end" fill="#2b9058"  stroke="#2b9058" stroke-width="0.3">4</text>
<text x="492.6" y="483.4" font-size="9.4" text-anchor="start" fill="#f0a232"  stroke="#f0a232" stroke-width="0.3">4</text>
<text x="351.0" y="459.5" font-size="9.4" text-anchor="end" fill="#2b9058"  stroke="#2b9058" stroke-width="0.3">6</text>
<text x="492.6" y="459.5" font-size="9.4" text-anchor="start" fill="#f0a232"  stroke="#f0a232" stroke-width="0.3">6</text>
<text x="421.4" y="446.3" font-size="13" font-style="italic" fill="#2b9058" text-anchor="middle">k</text>
<text x="419.4" y="550.0" font-size="13" font-style="italic" fill="#f0a232" text-anchor="middle">k′</text>
<polyline points="488.20,480.83 454.80,516.13 421.40,519.72 388.00,519.72 354.60,528.10" stroke="#f0a232" stroke-width="1.3" fill="none" />
<path d="M486.90,479.53L489.50,482.13M486.90,482.13L489.50,479.53" stroke="#f0a232" stroke-width="0.8"/>
<path d="M453.50,514.83L456.10,517.43M453.50,517.43L456.10,514.83" stroke="#f0a232" stroke-width="0.8"/>
<path d="M420.10,518.42L422.70,521.02M420.10,521.02L422.70,518.42" stroke="#f0a232" stroke-width="0.8"/>
<path d="M386.70,518.42L389.30,521.02M386.70,521.02L389.30,518.42" stroke="#f0a232" stroke-width="0.8"/>
<path d="M353.30,526.80L355.90,529.40M353.30,529.40L355.90,526.80" stroke="#f0a232" stroke-width="0.8"/>
<polyline points="388.00,519.72 421.40,516.13 454.80,498.78 488.20,480.83" stroke="#2b9058" stroke-width="1.3" fill="none" />
<path d="M386.70,518.42L389.30,521.02M386.70,521.02L389.30,518.42" stroke="#2b9058" stroke-width="0.8"/>
<path d="M420.10,514.83L422.70,517.43M420.10,517.43L422.70,514.83" stroke="#2b9058" stroke-width="0.8"/>
<path d="M453.50,497.48L456.10,500.08M453.50,500.08L456.10,497.48" stroke="#2b9058" stroke-width="0.8"/>
<path d="M486.90,479.53L489.50,482.13M486.90,482.13L489.50,479.53" stroke="#2b9058" stroke-width="0.8"/>
<line x1="358.40" y1="464.60" x2="367.40" y2="464.60" stroke="#2b9058" stroke-width="0.9" />
<rect x="361.9" y="463.5" width="2.2" height="2.2" fill="#2b9058"/>
<text x="368.9" y="468.9" font-size="13.2" fill="#2b9058"><tspan font-style="italic">C</tspan><tspan font-size="9" dy="2.6"><tspan font-style="italic">k</tspan>−part,<tspan font-style="italic">X</tspan><tspan font-size="6" dy="1.2">in</tspan></tspan></text>
<line x1="358.40" y1="475.30" x2="367.40" y2="475.30" stroke="#f0a232" stroke-width="0.9" />
<rect x="361.9" y="474.2" width="2.2" height="2.2" fill="#f0a232"/>
<text x="368.9" y="479.6" font-size="13.2" fill="#f0a232"><tspan font-style="italic">C</tspan><tspan font-size="9" dy="2.6"><tspan font-style="italic">k′</tspan>−prod,<tspan font-style="italic">X</tspan><tspan font-size="6" dy="1.2">in</tspan></tspan></text>
<line x1="525.20" y1="456.30" x2="660.70" y2="456.30" stroke="#b9dcc6" stroke-width="1" />
<line x1="525.20" y1="456.30" x2="525.20" y2="528.10" stroke="#b9dcc6" stroke-width="1" />
<line x1="660.70" y1="456.30" x2="660.70" y2="528.10" stroke="#f7d9a8" stroke-width="1" />
<line x1="525.20" y1="528.10" x2="660.70" y2="528.10" stroke="#f7d9a8" stroke-width="1" />
<line x1="570.37" y1="456.30" x2="570.37" y2="458.50" stroke="#b9dcc6" stroke-width="0.9" />
<line x1="570.37" y1="528.10" x2="570.37" y2="525.90" stroke="#f7d9a8" stroke-width="0.9" />
<line x1="615.53" y1="456.30" x2="615.53" y2="458.50" stroke="#b9dcc6" stroke-width="0.9" />
<line x1="615.53" y1="528.10" x2="615.53" y2="525.90" stroke="#f7d9a8" stroke-width="0.9" />
<line x1="525.20" y1="504.17" x2="527.40" y2="504.17" stroke="#b9dcc6" stroke-width="0.9" />
<line x1="660.70" y1="504.17" x2="658.50" y2="504.17" stroke="#f7d9a8" stroke-width="0.9" />
<line x1="525.20" y1="480.23" x2="527.40" y2="480.23" stroke="#b9dcc6" stroke-width="0.9" />
<line x1="660.70" y1="480.23" x2="658.50" y2="480.23" stroke="#f7d9a8" stroke-width="0.9" />
<text x="525.2" y="454.2" font-size="9.4" text-anchor="middle" fill="#2b9058"  stroke="#2b9058" stroke-width="0.3">1</text>
<text x="660.7" y="538.6" font-size="9.4" text-anchor="middle" fill="#f0a232"  stroke="#f0a232" stroke-width="0.3">1</text>
<text x="570.4" y="454.2" font-size="9.4" text-anchor="middle" fill="#2b9058"  stroke="#2b9058" stroke-width="0.3">2</text>
<text x="615.5" y="538.6" font-size="9.4" text-anchor="middle" fill="#f0a232"  stroke="#f0a232" stroke-width="0.3">2</text>
<text x="615.5" y="454.2" font-size="9.4" text-anchor="middle" fill="#2b9058"  stroke="#2b9058" stroke-width="0.3">3</text>
<text x="570.4" y="538.6" font-size="9.4" text-anchor="middle" fill="#f0a232"  stroke="#f0a232" stroke-width="0.3">3</text>
<text x="660.7" y="454.2" font-size="9.4" text-anchor="middle" fill="#2b9058"  stroke="#2b9058" stroke-width="0.3">4</text>
<text x="525.2" y="538.6" font-size="9.4" text-anchor="middle" fill="#f0a232"  stroke="#f0a232" stroke-width="0.3">4</text>
<text x="521.6" y="531.3" font-size="9.4" text-anchor="end" fill="#2b9058"  stroke="#2b9058" stroke-width="0.3">0</text>
<text x="665.1" y="531.3" font-size="9.4" text-anchor="start" fill="#f0a232"  stroke="#f0a232" stroke-width="0.3">0</text>
<text x="521.6" y="507.4" font-size="9.4" text-anchor="end" fill="#2b9058"  stroke="#2b9058" stroke-width="0.3">2</text>
<text x="665.1" y="507.4" font-size="9.4" text-anchor="start" fill="#f0a232"  stroke="#f0a232" stroke-width="0.3">2</text>
<text x="521.6" y="483.4" font-size="9.4" text-anchor="end" fill="#2b9058"  stroke="#2b9058" stroke-width="0.3">4</text>
<text x="665.1" y="483.4" font-size="9.4" text-anchor="start" fill="#f0a232"  stroke="#f0a232" stroke-width="0.3">4</text>
<text x="521.6" y="459.5" font-size="9.4" text-anchor="end" fill="#2b9058"  stroke="#2b9058" stroke-width="0.3">6</text>
<text x="665.1" y="459.5" font-size="9.4" text-anchor="start" fill="#f0a232"  stroke="#f0a232" stroke-width="0.3">6</text>
<text x="592.7" y="446.3" font-size="13" font-style="italic" fill="#2b9058" text-anchor="middle">k</text>
<text x="590.7" y="550.0" font-size="13" font-style="italic" fill="#f0a232" text-anchor="middle">k′</text>
<polyline points="660.70,485.02 615.53,526.31 570.37,526.31 525.20,528.10" stroke="#f0a232" stroke-width="1.3" fill="none" />
<path d="M659.40,483.72L662.00,486.32M659.40,486.32L662.00,483.72" stroke="#f0a232" stroke-width="0.8"/>
<path d="M614.23,525.01L616.83,527.61M614.23,527.61L616.83,525.01" stroke="#f0a232" stroke-width="0.8"/>
<path d="M569.07,525.01L571.67,527.61M569.07,527.61L571.67,525.01" stroke="#f0a232" stroke-width="0.8"/>
<path d="M523.90,526.80L526.50,529.40M523.90,529.40L526.50,526.80" stroke="#f0a232" stroke-width="0.8"/>
<polyline points="570.37,526.31 615.53,505.96 660.70,485.02" stroke="#2b9058" stroke-width="1.3" fill="none" />
<path d="M569.07,525.01L571.67,527.61M569.07,527.61L571.67,525.01" stroke="#2b9058" stroke-width="0.8"/>
<path d="M614.23,504.66L616.83,507.26M614.23,507.26L616.83,504.66" stroke="#2b9058" stroke-width="0.8"/>
<path d="M659.40,483.72L662.00,486.32M659.40,486.32L662.00,483.72" stroke="#2b9058" stroke-width="0.8"/>
<line x1="529.00" y1="464.60" x2="538.00" y2="464.60" stroke="#2b9058" stroke-width="0.9" />
<rect x="532.5" y="463.5" width="2.2" height="2.2" fill="#2b9058"/>
<text x="539.5" y="468.9" font-size="13.2" fill="#2b9058"><tspan font-style="italic">C</tspan><tspan font-size="9" dy="2.6"><tspan font-style="italic">k</tspan>−part,<tspan font-style="italic">X</tspan><tspan font-size="6" dy="1.2">in</tspan></tspan></text>
<line x1="529.00" y1="475.30" x2="538.00" y2="475.30" stroke="#f0a232" stroke-width="0.9" />
<rect x="532.5" y="474.2" width="2.2" height="2.2" fill="#f0a232"/>
<text x="539.5" y="479.6" font-size="13.2" fill="#f0a232"><tspan font-style="italic">C</tspan><tspan font-size="9" dy="2.6"><tspan font-style="italic">k′</tspan>−prod,<tspan font-style="italic">X</tspan><tspan font-size="6" dy="1.2">in</tspan></tspan></text>
<line x1="13.30" y1="575.50" x2="148.20" y2="575.50" stroke="#b9dcc6" stroke-width="1" />
<line x1="13.30" y1="575.50" x2="13.30" y2="647.90" stroke="#b9dcc6" stroke-width="1" />
<line x1="148.20" y1="575.50" x2="148.20" y2="647.90" stroke="#f7d9a8" stroke-width="1" />
<line x1="13.30" y1="647.90" x2="148.20" y2="647.90" stroke="#f7d9a8" stroke-width="1" />
<line x1="47.02" y1="575.50" x2="47.02" y2="577.70" stroke="#b9dcc6" stroke-width="0.9" />
<line x1="47.02" y1="647.90" x2="47.02" y2="645.70" stroke="#f7d9a8" stroke-width="0.9" />
<line x1="80.75" y1="575.50" x2="80.75" y2="577.70" stroke="#b9dcc6" stroke-width="0.9" />
<line x1="80.75" y1="647.90" x2="80.75" y2="645.70" stroke="#f7d9a8" stroke-width="0.9" />
<line x1="114.47" y1="575.50" x2="114.47" y2="577.70" stroke="#b9dcc6" stroke-width="0.9" />
<line x1="114.47" y1="647.90" x2="114.47" y2="645.70" stroke="#f7d9a8" stroke-width="0.9" />
<line x1="13.30" y1="629.80" x2="15.50" y2="629.80" stroke="#b9dcc6" stroke-width="0.9" />
<line x1="148.20" y1="629.80" x2="146.00" y2="629.80" stroke="#f7d9a8" stroke-width="0.9" />
<line x1="13.30" y1="611.70" x2="15.50" y2="611.70" stroke="#b9dcc6" stroke-width="0.9" />
<line x1="148.20" y1="611.70" x2="146.00" y2="611.70" stroke="#f7d9a8" stroke-width="0.9" />
<line x1="13.30" y1="593.60" x2="15.50" y2="593.60" stroke="#b9dcc6" stroke-width="0.9" />
<line x1="148.20" y1="593.60" x2="146.00" y2="593.60" stroke="#f7d9a8" stroke-width="0.9" />
<text x="13.3" y="572.0" font-size="9.4" text-anchor="middle" fill="#2b9058"  stroke="#2b9058" stroke-width="0.3">1</text>
<text x="148.2" y="658.2" font-size="9.4" text-anchor="middle" fill="#f0a232"  stroke="#f0a232" stroke-width="0.3">1</text>
<text x="47.0" y="572.0" font-size="9.4" text-anchor="middle" fill="#2b9058"  stroke="#2b9058" stroke-width="0.3">2</text>
<text x="114.5" y="658.2" font-size="9.4" text-anchor="middle" fill="#f0a232"  stroke="#f0a232" stroke-width="0.3">2</text>
<text x="80.7" y="572.0" font-size="9.4" text-anchor="middle" fill="#2b9058"  stroke="#2b9058" stroke-width="0.3">3</text>
<text x="80.7" y="658.2" font-size="9.4" text-anchor="middle" fill="#f0a232"  stroke="#f0a232" stroke-width="0.3">3</text>
<text x="114.5" y="572.0" font-size="9.4" text-anchor="middle" fill="#2b9058"  stroke="#2b9058" stroke-width="0.3">4</text>
<text x="47.0" y="658.2" font-size="9.4" text-anchor="middle" fill="#f0a232"  stroke="#f0a232" stroke-width="0.3">4</text>
<text x="148.2" y="572.0" font-size="9.4" text-anchor="middle" fill="#2b9058"  stroke="#2b9058" stroke-width="0.3">5</text>
<text x="13.3" y="658.2" font-size="9.4" text-anchor="middle" fill="#f0a232"  stroke="#f0a232" stroke-width="0.3">5</text>
<text x="9.7" y="651.1" font-size="9.4" text-anchor="end" fill="#2b9058"  stroke="#2b9058" stroke-width="0.3">0</text>
<text x="152.6" y="651.1" font-size="9.4" text-anchor="start" fill="#f0a232"  stroke="#f0a232" stroke-width="0.3">0</text>
<text x="9.7" y="633.0" font-size="9.4" text-anchor="end" fill="#2b9058"  stroke="#2b9058" stroke-width="0.3">2</text>
<text x="152.6" y="633.0" font-size="9.4" text-anchor="start" fill="#f0a232"  stroke="#f0a232" stroke-width="0.3">2</text>
<text x="9.7" y="614.9" font-size="9.4" text-anchor="end" fill="#2b9058"  stroke="#2b9058" stroke-width="0.3">4</text>
<text x="152.6" y="614.9" font-size="9.4" text-anchor="start" fill="#f0a232"  stroke="#f0a232" stroke-width="0.3">4</text>
<text x="9.7" y="596.8" font-size="9.4" text-anchor="end" fill="#2b9058"  stroke="#2b9058" stroke-width="0.3">6</text>
<text x="152.6" y="596.8" font-size="9.4" text-anchor="start" fill="#f0a232"  stroke="#f0a232" stroke-width="0.3">6</text>
<text x="9.7" y="578.7" font-size="9.4" text-anchor="end" fill="#2b9058"  stroke="#2b9058" stroke-width="0.3">8</text>
<text x="152.6" y="578.7" font-size="9.4" text-anchor="start" fill="#f0a232"  stroke="#f0a232" stroke-width="0.3">8</text>
<text x="80.6" y="564.9" font-size="13" font-style="italic" fill="#2b9058" text-anchor="middle">k</text>
<text x="79.6" y="669.0" font-size="13" font-style="italic" fill="#f0a232" text-anchor="middle">k′</text>
<polyline points="148.20,600.84 114.47,615.77 80.75,624.82 47.02,632.97 13.30,647.90" stroke="#f0a232" stroke-width="1.3" fill="none" />
<path d="M146.90,599.54L149.50,602.14M146.90,602.14L149.50,599.54" stroke="#f0a232" stroke-width="0.8"/>
<path d="M113.17,614.47L115.77,617.07M113.17,617.07L115.77,614.47" stroke="#f0a232" stroke-width="0.8"/>
<path d="M79.45,623.52L82.05,626.12M79.45,626.12L82.05,623.52" stroke="#f0a232" stroke-width="0.8"/>
<path d="M45.72,631.67L48.32,634.27M45.72,634.27L48.32,631.67" stroke="#f0a232" stroke-width="0.8"/>
<path d="M12.00,646.60L14.60,649.20M12.00,649.20L14.60,646.60" stroke="#f0a232" stroke-width="0.8"/>
<polyline points="47.02,632.97 80.75,618.94 114.47,608.99 148.20,600.84" stroke="#2b9058" stroke-width="1.3" fill="none" />
<path d="M45.72,631.67L48.32,634.27M45.72,634.27L48.32,631.67" stroke="#2b9058" stroke-width="0.8"/>
<path d="M79.45,617.64L82.05,620.24M79.45,620.24L82.05,617.64" stroke="#2b9058" stroke-width="0.8"/>
<path d="M113.17,607.69L115.77,610.28M113.17,610.28L115.77,607.69" stroke="#2b9058" stroke-width="0.8"/>
<path d="M146.90,599.54L149.50,602.14M146.90,602.14L149.50,599.54" stroke="#2b9058" stroke-width="0.8"/>
<line x1="17.10" y1="582.90" x2="26.10" y2="582.90" stroke="#2b9058" stroke-width="0.9" />
<rect x="20.6" y="581.8" width="2.2" height="2.2" fill="#2b9058"/>
<text x="27.6" y="587.2" font-size="13.2" fill="#2b9058"><tspan font-style="italic">C</tspan><tspan font-size="9" dy="2.6"><tspan font-style="italic">k</tspan>−part,<tspan font-style="italic">A</tspan><tspan font-size="6" dy="1.2">C</tspan></tspan></text>
<line x1="85.80" y1="640.50" x2="94.80" y2="640.50" stroke="#f0a232" stroke-width="0.9" />
<rect x="89.3" y="639.4" width="2.2" height="2.2" fill="#f0a232"/>
<text x="96.3" y="644.8" font-size="13.2" fill="#f0a232"><tspan font-style="italic">C</tspan><tspan font-size="9" dy="2.6"><tspan font-style="italic">k′</tspan>−prod,<tspan font-style="italic">A</tspan><tspan font-size="6" dy="1.2">C</tspan></tspan></text>
<text x="31.3" y="623.8" font-size="10.2" text-anchor="start" fill="#000"  >×0.01</text>
<line x1="184.10" y1="575.50" x2="319.00" y2="575.50" stroke="#b9dcc6" stroke-width="1" />
<line x1="184.10" y1="575.50" x2="184.10" y2="647.90" stroke="#b9dcc6" stroke-width="1" />
<line x1="319.00" y1="575.50" x2="319.00" y2="647.90" stroke="#f7d9a8" stroke-width="1" />
<line x1="184.10" y1="647.90" x2="319.00" y2="647.90" stroke="#f7d9a8" stroke-width="1" />
<line x1="217.82" y1="575.50" x2="217.82" y2="577.70" stroke="#b9dcc6" stroke-width="0.9" />
<line x1="217.82" y1="647.90" x2="217.82" y2="645.70" stroke="#f7d9a8" stroke-width="0.9" />
<line x1="251.55" y1="575.50" x2="251.55" y2="577.70" stroke="#b9dcc6" stroke-width="0.9" />
<line x1="251.55" y1="647.90" x2="251.55" y2="645.70" stroke="#f7d9a8" stroke-width="0.9" />
<line x1="285.27" y1="575.50" x2="285.27" y2="577.70" stroke="#b9dcc6" stroke-width="0.9" />
<line x1="285.27" y1="647.90" x2="285.27" y2="645.70" stroke="#f7d9a8" stroke-width="0.9" />
<line x1="184.10" y1="629.80" x2="186.30" y2="629.80" stroke="#b9dcc6" stroke-width="0.9" />
<line x1="319.00" y1="629.80" x2="316.80" y2="629.80" stroke="#f7d9a8" stroke-width="0.9" />
<line x1="184.10" y1="611.70" x2="186.30" y2="611.70" stroke="#b9dcc6" stroke-width="0.9" />
<line x1="319.00" y1="611.70" x2="316.80" y2="611.70" stroke="#f7d9a8" stroke-width="0.9" />
<line x1="184.10" y1="593.60" x2="186.30" y2="593.60" stroke="#b9dcc6" stroke-width="0.9" />
<line x1="319.00" y1="593.60" x2="316.80" y2="593.60" stroke="#f7d9a8" stroke-width="0.9" />
<text x="184.1" y="572.0" font-size="9.4" text-anchor="middle" fill="#2b9058"  stroke="#2b9058" stroke-width="0.3">1</text>
<text x="319.0" y="658.2" font-size="9.4" text-anchor="middle" fill="#f0a232"  stroke="#f0a232" stroke-width="0.3">1</text>
<text x="217.8" y="572.0" font-size="9.4" text-anchor="middle" fill="#2b9058"  stroke="#2b9058" stroke-width="0.3">2</text>
<text x="285.3" y="658.2" font-size="9.4" text-anchor="middle" fill="#f0a232"  stroke="#f0a232" stroke-width="0.3">2</text>
<text x="251.6" y="572.0" font-size="9.4" text-anchor="middle" fill="#2b9058"  stroke="#2b9058" stroke-width="0.3">3</text>
<text x="251.6" y="658.2" font-size="9.4" text-anchor="middle" fill="#f0a232"  stroke="#f0a232" stroke-width="0.3">3</text>
<text x="285.3" y="572.0" font-size="9.4" text-anchor="middle" fill="#2b9058"  stroke="#2b9058" stroke-width="0.3">4</text>
<text x="217.8" y="658.2" font-size="9.4" text-anchor="middle" fill="#f0a232"  stroke="#f0a232" stroke-width="0.3">4</text>
<text x="319.0" y="572.0" font-size="9.4" text-anchor="middle" fill="#2b9058"  stroke="#2b9058" stroke-width="0.3">5</text>
<text x="184.1" y="658.2" font-size="9.4" text-anchor="middle" fill="#f0a232"  stroke="#f0a232" stroke-width="0.3">5</text>
<text x="180.5" y="651.1" font-size="9.4" text-anchor="end" fill="#2b9058"  stroke="#2b9058" stroke-width="0.3">0</text>
<text x="323.4" y="651.1" font-size="9.4" text-anchor="start" fill="#f0a232"  stroke="#f0a232" stroke-width="0.3">0</text>
<text x="180.5" y="633.0" font-size="9.4" text-anchor="end" fill="#2b9058"  stroke="#2b9058" stroke-width="0.3">2</text>
<text x="323.4" y="633.0" font-size="9.4" text-anchor="start" fill="#f0a232"  stroke="#f0a232" stroke-width="0.3">2</text>
<text x="180.5" y="614.9" font-size="9.4" text-anchor="end" fill="#2b9058"  stroke="#2b9058" stroke-width="0.3">4</text>
<text x="323.4" y="614.9" font-size="9.4" text-anchor="start" fill="#f0a232"  stroke="#f0a232" stroke-width="0.3">4</text>
<text x="180.5" y="596.8" font-size="9.4" text-anchor="end" fill="#2b9058"  stroke="#2b9058" stroke-width="0.3">6</text>
<text x="323.4" y="596.8" font-size="9.4" text-anchor="start" fill="#f0a232"  stroke="#f0a232" stroke-width="0.3">6</text>
<text x="180.5" y="578.7" font-size="9.4" text-anchor="end" fill="#2b9058"  stroke="#2b9058" stroke-width="0.3">8</text>
<text x="323.4" y="578.7" font-size="9.4" text-anchor="start" fill="#f0a232"  stroke="#f0a232" stroke-width="0.3">8</text>
<text x="250.8" y="564.9" font-size="13" font-style="italic" fill="#2b9058" text-anchor="middle">k</text>
<text x="249.8" y="669.0" font-size="13" font-style="italic" fill="#f0a232" text-anchor="middle">k′</text>
<polyline points="319.00,600.84 285.27,614.41 251.55,625.73 217.82,631.61 184.10,647.90" stroke="#f0a232" stroke-width="1.3" fill="none" />
<path d="M317.70,599.54L320.30,602.14M317.70,602.14L320.30,599.54" stroke="#f0a232" stroke-width="0.8"/>
<path d="M283.97,613.12L286.57,615.71M283.97,615.71L286.57,613.12" stroke="#f0a232" stroke-width="0.8"/>
<path d="M250.25,624.43L252.85,627.03M250.25,627.03L252.85,624.43" stroke="#f0a232" stroke-width="0.8"/>
<path d="M216.52,630.31L219.12,632.91M216.52,632.91L219.12,630.31" stroke="#f0a232" stroke-width="0.8"/>
<path d="M182.80,646.60L185.40,649.20M182.80,649.20L185.40,646.60" stroke="#f0a232" stroke-width="0.8"/>
<polyline points="217.82,631.61 251.55,620.75 285.27,610.79 319.00,600.84" stroke="#2b9058" stroke-width="1.3" fill="none" />
<path d="M216.52,630.31L219.12,632.91M216.52,632.91L219.12,630.31" stroke="#2b9058" stroke-width="0.8"/>
<path d="M250.25,619.45L252.85,622.05M250.25,622.05L252.85,619.45" stroke="#2b9058" stroke-width="0.8"/>
<path d="M283.97,609.50L286.57,612.09M283.97,612.09L286.57,609.50" stroke="#2b9058" stroke-width="0.8"/>
<path d="M317.70,599.54L320.30,602.14M317.70,602.14L320.30,599.54" stroke="#2b9058" stroke-width="0.8"/>
<polyline points="217.82,633.42 251.55,621.20 285.27,613.96 319.00,584.55" stroke="#2b9058" stroke-width="1.3" fill="none" stroke-dasharray="2.2,1.6"/>
<rect x="216.12" y="631.72" width="3.4" height="3.4" fill="#2b9058" fill-opacity="0.25" stroke="#2b9058" stroke-width="0.9"/>
<rect x="249.85" y="619.50" width="3.4" height="3.4" fill="#2b9058" fill-opacity="0.25" stroke="#2b9058" stroke-width="0.9"/>
<rect x="283.57" y="612.26" width="3.4" height="3.4" fill="#2b9058" fill-opacity="0.25" stroke="#2b9058" stroke-width="0.9"/>
<rect x="317.30" y="582.85" width="3.4" height="3.4" fill="#2b9058" fill-opacity="0.25" stroke="#2b9058" stroke-width="0.9"/>
<polyline points="319.00,584.55 285.27,619.85 251.55,627.54 217.82,634.32 184.10,647.90" stroke="#f0a232" stroke-width="1.3" fill="none" stroke-dasharray="2.2,1.6"/>
<rect x="317.30" y="582.85" width="3.4" height="3.4" fill="#f0a232" fill-opacity="0.25" stroke="#f0a232" stroke-width="0.9"/>
<rect x="283.57" y="618.14" width="3.4" height="3.4" fill="#f0a232" fill-opacity="0.25" stroke="#f0a232" stroke-width="0.9"/>
<rect x="249.85" y="625.84" width="3.4" height="3.4" fill="#f0a232" fill-opacity="0.25" stroke="#f0a232" stroke-width="0.9"/>
<rect x="216.12" y="632.62" width="3.4" height="3.4" fill="#f0a232" fill-opacity="0.25" stroke="#f0a232" stroke-width="0.9"/>
<rect x="182.40" y="646.20" width="3.4" height="3.4" fill="#f0a232" fill-opacity="0.25" stroke="#f0a232" stroke-width="0.9"/>
<line x1="187.90" y1="582.90" x2="196.90" y2="582.90" stroke="#2b9058" stroke-width="0.9" />
<rect x="191.4" y="581.8" width="2.2" height="2.2" fill="#2b9058"/>
<text x="198.4" y="587.2" font-size="13.2" fill="#2b9058"><tspan font-style="italic">C</tspan><tspan font-size="9" dy="2.6"><tspan font-style="italic">k</tspan>−part,<tspan font-style="italic">A</tspan><tspan font-size="6" dy="1.2">C</tspan></tspan></text>
<line x1="187.90" y1="594.80" x2="196.90" y2="594.80" stroke="#2b9058" stroke-width="0.9" stroke-dasharray="1.6,1.2"/>
<rect x="191.2" y="593.1" width="3.4" height="3.4" fill="#2b9058" fill-opacity="0.25" stroke="#2b9058" stroke-width="0.9"/>
<text x="198.4" y="599.1" font-size="13.2" fill="#2b9058"><tspan font-style="italic">C</tspan><tspan font-size="9" dy="2.6"><tspan font-style="italic">k</tspan>−part,<tspan font-style="italic">A</tspan><tspan font-size="6" dy="1.2">N</tspan></tspan></text>
<line x1="256.10" y1="629.10" x2="265.10" y2="629.10" stroke="#f0a232" stroke-width="0.9" />
<rect x="259.6" y="628.0" width="2.2" height="2.2" fill="#f0a232"/>
<text x="266.6" y="633.4" font-size="13.2" fill="#f0a232"><tspan font-style="italic">C</tspan><tspan font-size="9" dy="2.6"><tspan font-style="italic">k′</tspan>−prod,<tspan font-style="italic">A</tspan><tspan font-size="6" dy="1.2">C</tspan></tspan></text>
<line x1="256.10" y1="641.00" x2="265.10" y2="641.00" stroke="#f0a232" stroke-width="0.9" stroke-dasharray="1.6,1.2"/>
<rect x="259.4" y="639.3" width="3.4" height="3.4" fill="#f0a232" fill-opacity="0.25" stroke="#f0a232" stroke-width="0.9"/>
<text x="266.6" y="645.3" font-size="13.2" fill="#f0a232"><tspan font-style="italic">C</tspan><tspan font-size="9" dy="2.6"><tspan font-style="italic">k′</tspan>−prod,<tspan font-style="italic">A</tspan><tspan font-size="6" dy="1.2">N</tspan></tspan></text>
<text x="202.1" y="623.8" font-size="10.2" text-anchor="start" fill="#000"  >×0.01</text>
<line x1="354.30" y1="575.50" x2="489.60" y2="575.50" stroke="#b9dcc6" stroke-width="1" />
<line x1="354.30" y1="575.50" x2="354.30" y2="647.90" stroke="#b9dcc6" stroke-width="1" />
<line x1="489.60" y1="575.50" x2="489.60" y2="647.90" stroke="#f7d9a8" stroke-width="1" />
<line x1="354.30" y1="647.90" x2="489.60" y2="647.90" stroke="#f7d9a8" stroke-width="1" />
<line x1="388.12" y1="575.50" x2="388.12" y2="577.70" stroke="#b9dcc6" stroke-width="0.9" />
<line x1="388.12" y1="647.90" x2="388.12" y2="645.70" stroke="#f7d9a8" stroke-width="0.9" />
<line x1="421.95" y1="575.50" x2="421.95" y2="577.70" stroke="#b9dcc6" stroke-width="0.9" />
<line x1="421.95" y1="647.90" x2="421.95" y2="645.70" stroke="#f7d9a8" stroke-width="0.9" />
<line x1="455.78" y1="575.50" x2="455.78" y2="577.70" stroke="#b9dcc6" stroke-width="0.9" />
<line x1="455.78" y1="647.90" x2="455.78" y2="645.70" stroke="#f7d9a8" stroke-width="0.9" />
<line x1="354.30" y1="629.80" x2="356.50" y2="629.80" stroke="#b9dcc6" stroke-width="0.9" />
<line x1="489.60" y1="629.80" x2="487.40" y2="629.80" stroke="#f7d9a8" stroke-width="0.9" />
<line x1="354.30" y1="611.70" x2="356.50" y2="611.70" stroke="#b9dcc6" stroke-width="0.9" />
<line x1="489.60" y1="611.70" x2="487.40" y2="611.70" stroke="#f7d9a8" stroke-width="0.9" />
<line x1="354.30" y1="593.60" x2="356.50" y2="593.60" stroke="#b9dcc6" stroke-width="0.9" />
<line x1="489.60" y1="593.60" x2="487.40" y2="593.60" stroke="#f7d9a8" stroke-width="0.9" />
<text x="354.3" y="572.0" font-size="9.4" text-anchor="middle" fill="#2b9058"  stroke="#2b9058" stroke-width="0.3">1</text>
<text x="489.6" y="658.2" font-size="9.4" text-anchor="middle" fill="#f0a232"  stroke="#f0a232" stroke-width="0.3">1</text>
<text x="388.1" y="572.0" font-size="9.4" text-anchor="middle" fill="#2b9058"  stroke="#2b9058" stroke-width="0.3">2</text>
<text x="455.8" y="658.2" font-size="9.4" text-anchor="middle" fill="#f0a232"  stroke="#f0a232" stroke-width="0.3">2</text>
<text x="422.0" y="572.0" font-size="9.4" text-anchor="middle" fill="#2b9058"  stroke="#2b9058" stroke-width="0.3">3</text>
<text x="422.0" y="658.2" font-size="9.4" text-anchor="middle" fill="#f0a232"  stroke="#f0a232" stroke-width="0.3">3</text>
<text x="455.8" y="572.0" font-size="9.4" text-anchor="middle" fill="#2b9058"  stroke="#2b9058" stroke-width="0.3">4</text>
<text x="388.1" y="658.2" font-size="9.4" text-anchor="middle" fill="#f0a232"  stroke="#f0a232" stroke-width="0.3">4</text>
<text x="489.6" y="572.0" font-size="9.4" text-anchor="middle" fill="#2b9058"  stroke="#2b9058" stroke-width="0.3">5</text>
<text x="354.3" y="658.2" font-size="9.4" text-anchor="middle" fill="#f0a232"  stroke="#f0a232" stroke-width="0.3">5</text>
<text x="350.7" y="651.1" font-size="9.4" text-anchor="end" fill="#2b9058"  stroke="#2b9058" stroke-width="0.3">0</text>
<text x="494.0" y="651.1" font-size="9.4" text-anchor="start" fill="#f0a232"  stroke="#f0a232" stroke-width="0.3">0</text>
<text x="350.7" y="633.0" font-size="9.4" text-anchor="end" fill="#2b9058"  stroke="#2b9058" stroke-width="0.3">2</text>
<text x="494.0" y="633.0" font-size="9.4" text-anchor="start" fill="#f0a232"  stroke="#f0a232" stroke-width="0.3">2</text>
<text x="350.7" y="614.9" font-size="9.4" text-anchor="end" fill="#2b9058"  stroke="#2b9058" stroke-width="0.3">4</text>
<text x="494.0" y="614.9" font-size="9.4" text-anchor="start" fill="#f0a232"  stroke="#f0a232" stroke-width="0.3">4</text>
<text x="350.7" y="596.8" font-size="9.4" text-anchor="end" fill="#2b9058"  stroke="#2b9058" stroke-width="0.3">6</text>
<text x="494.0" y="596.8" font-size="9.4" text-anchor="start" fill="#f0a232"  stroke="#f0a232" stroke-width="0.3">6</text>
<text x="350.7" y="578.7" font-size="9.4" text-anchor="end" fill="#2b9058"  stroke="#2b9058" stroke-width="0.3">8</text>
<text x="494.0" y="578.7" font-size="9.4" text-anchor="start" fill="#f0a232"  stroke="#f0a232" stroke-width="0.3">8</text>
<text x="421.4" y="564.9" font-size="13" font-style="italic" fill="#2b9058" text-anchor="middle">k</text>
<text x="420.4" y="669.0" font-size="13" font-style="italic" fill="#f0a232" text-anchor="middle">k′</text>
<polyline points="489.60,600.84 455.78,616.23 421.95,624.37 388.12,632.97 354.30,647.90" stroke="#f0a232" stroke-width="1.3" fill="none" />
<path d="M488.30,599.54L490.90,602.14M488.30,602.14L490.90,599.54" stroke="#f0a232" stroke-width="0.8"/>
<path d="M454.48,614.93L457.08,617.52M454.48,617.52L457.08,614.93" stroke="#f0a232" stroke-width="0.8"/>
<path d="M420.65,623.07L423.25,625.67M420.65,625.67L423.25,623.07" stroke="#f0a232" stroke-width="0.8"/>
<path d="M386.82,631.67L389.43,634.27M386.82,634.27L389.43,631.67" stroke="#f0a232" stroke-width="0.8"/>
<path d="M353.00,646.60L355.60,649.20M353.00,649.20L355.60,646.60" stroke="#f0a232" stroke-width="0.8"/>
<polyline points="388.12,632.97 421.95,620.75 455.78,612.15 489.60,600.84" stroke="#2b9058" stroke-width="1.3" fill="none" />
<path d="M386.82,631.67L389.43,634.27M386.82,634.27L389.43,631.67" stroke="#2b9058" stroke-width="0.8"/>
<path d="M420.65,619.45L423.25,622.05M420.65,622.05L423.25,619.45" stroke="#2b9058" stroke-width="0.8"/>
<path d="M454.48,610.85L457.08,613.45M454.48,613.45L457.08,610.85" stroke="#2b9058" stroke-width="0.8"/>
<path d="M488.30,599.54L490.90,602.14M488.30,602.14L490.90,599.54" stroke="#2b9058" stroke-width="0.8"/>
<polyline points="388.12,633.42 421.95,620.30 455.78,609.44 489.60,600.84" stroke="#2b9058" stroke-width="1.3" fill="none" stroke-dasharray="2.2,1.6"/>
<rect x="386.43" y="631.72" width="3.4" height="3.4" fill="#2b9058" fill-opacity="0.25" stroke="#2b9058" stroke-width="0.9"/>
<rect x="420.25" y="618.60" width="3.4" height="3.4" fill="#2b9058" fill-opacity="0.25" stroke="#2b9058" stroke-width="0.9"/>
<rect x="454.08" y="607.74" width="3.4" height="3.4" fill="#2b9058" fill-opacity="0.25" stroke="#2b9058" stroke-width="0.9"/>
<rect x="487.90" y="599.14" width="3.4" height="3.4" fill="#2b9058" fill-opacity="0.25" stroke="#2b9058" stroke-width="0.9"/>
<polyline points="489.60,600.84 455.78,612.61 421.95,623.01 388.12,634.32 354.30,647.90" stroke="#f0a232" stroke-width="1.3" fill="none" stroke-dasharray="2.2,1.6"/>
<rect x="487.90" y="599.14" width="3.4" height="3.4" fill="#f0a232" fill-opacity="0.25" stroke="#f0a232" stroke-width="0.9"/>
<rect x="454.08" y="610.90" width="3.4" height="3.4" fill="#f0a232" fill-opacity="0.25" stroke="#f0a232" stroke-width="0.9"/>
<rect x="420.25" y="621.31" width="3.4" height="3.4" fill="#f0a232" fill-opacity="0.25" stroke="#f0a232" stroke-width="0.9"/>
<rect x="386.43" y="632.62" width="3.4" height="3.4" fill="#f0a232" fill-opacity="0.25" stroke="#f0a232" stroke-width="0.9"/>
<rect x="352.60" y="646.20" width="3.4" height="3.4" fill="#f0a232" fill-opacity="0.25" stroke="#f0a232" stroke-width="0.9"/>
<line x1="358.10" y1="582.90" x2="367.10" y2="582.90" stroke="#2b9058" stroke-width="0.9" />
<rect x="361.6" y="581.8" width="2.2" height="2.2" fill="#2b9058"/>
<text x="368.6" y="587.2" font-size="13.2" fill="#2b9058"><tspan font-style="italic">C</tspan><tspan font-size="9" dy="2.6"><tspan font-style="italic">k</tspan>−part,<tspan font-style="italic">A</tspan><tspan font-size="6" dy="1.2">C</tspan></tspan></text>
<line x1="358.10" y1="594.80" x2="367.10" y2="594.80" stroke="#2b9058" stroke-width="0.9" stroke-dasharray="1.6,1.2"/>
<rect x="361.4" y="593.1" width="3.4" height="3.4" fill="#2b9058" fill-opacity="0.25" stroke="#2b9058" stroke-width="0.9"/>
<text x="368.6" y="599.1" font-size="13.2" fill="#2b9058"><tspan font-style="italic">C</tspan><tspan font-size="9" dy="2.6"><tspan font-style="italic">k</tspan>−part,<tspan font-style="italic">A</tspan><tspan font-size="6" dy="1.2">B</tspan></tspan></text>
<line x1="426.30" y1="629.10" x2="435.30" y2="629.10" stroke="#f0a232" stroke-width="0.9" />
<rect x="429.8" y="628.0" width="2.2" height="2.2" fill="#f0a232"/>
<text x="436.8" y="633.4" font-size="13.2" fill="#f0a232"><tspan font-style="italic">C</tspan><tspan font-size="9" dy="2.6"><tspan font-style="italic">k′</tspan>−prod,<tspan font-style="italic">A</tspan><tspan font-size="6" dy="1.2">C</tspan></tspan></text>
<line x1="426.30" y1="641.00" x2="435.30" y2="641.00" stroke="#f0a232" stroke-width="0.9" stroke-dasharray="1.6,1.2"/>
<rect x="429.6" y="639.3" width="3.4" height="3.4" fill="#f0a232" fill-opacity="0.25" stroke="#f0a232" stroke-width="0.9"/>
<text x="436.8" y="645.3" font-size="13.2" fill="#f0a232"><tspan font-style="italic">C</tspan><tspan font-size="9" dy="2.6"><tspan font-style="italic">k′</tspan>−prod,<tspan font-style="italic">A</tspan><tspan font-size="6" dy="1.2">B</tspan></tspan></text>
<text x="372.3" y="623.8" font-size="10.2" text-anchor="start" fill="#000"  >×0.01</text>
<line x1="524.60" y1="575.50" x2="660.30" y2="575.50" stroke="#b9dcc6" stroke-width="1" />
<line x1="524.60" y1="575.50" x2="524.60" y2="647.90" stroke="#b9dcc6" stroke-width="1" />
<line x1="660.30" y1="575.50" x2="660.30" y2="647.90" stroke="#f7d9a8" stroke-width="1" />
<line x1="524.60" y1="647.90" x2="660.30" y2="647.90" stroke="#f7d9a8" stroke-width="1" />
<line x1="558.52" y1="575.50" x2="558.52" y2="577.70" stroke="#b9dcc6" stroke-width="0.9" />
<line x1="558.52" y1="647.90" x2="558.52" y2="645.70" stroke="#f7d9a8" stroke-width="0.9" />
<line x1="592.45" y1="575.50" x2="592.45" y2="577.70" stroke="#b9dcc6" stroke-width="0.9" />
<line x1="592.45" y1="647.90" x2="592.45" y2="645.70" stroke="#f7d9a8" stroke-width="0.9" />
<line x1="626.38" y1="575.50" x2="626.38" y2="577.70" stroke="#b9dcc6" stroke-width="0.9" />
<line x1="626.38" y1="647.90" x2="626.38" y2="645.70" stroke="#f7d9a8" stroke-width="0.9" />
<line x1="524.60" y1="629.80" x2="526.80" y2="629.80" stroke="#b9dcc6" stroke-width="0.9" />
<line x1="660.30" y1="629.80" x2="658.10" y2="629.80" stroke="#f7d9a8" stroke-width="0.9" />
<line x1="524.60" y1="611.70" x2="526.80" y2="611.70" stroke="#b9dcc6" stroke-width="0.9" />
<line x1="660.30" y1="611.70" x2="658.10" y2="611.70" stroke="#f7d9a8" stroke-width="0.9" />
<line x1="524.60" y1="593.60" x2="526.80" y2="593.60" stroke="#b9dcc6" stroke-width="0.9" />
<line x1="660.30" y1="593.60" x2="658.10" y2="593.60" stroke="#f7d9a8" stroke-width="0.9" />
<text x="524.6" y="572.0" font-size="9.4" text-anchor="middle" fill="#2b9058"  stroke="#2b9058" stroke-width="0.3">1</text>
<text x="660.3" y="658.2" font-size="9.4" text-anchor="middle" fill="#f0a232"  stroke="#f0a232" stroke-width="0.3">1</text>
<text x="558.5" y="572.0" font-size="9.4" text-anchor="middle" fill="#2b9058"  stroke="#2b9058" stroke-width="0.3">2</text>
<text x="626.4" y="658.2" font-size="9.4" text-anchor="middle" fill="#f0a232"  stroke="#f0a232" stroke-width="0.3">2</text>
<text x="592.5" y="572.0" font-size="9.4" text-anchor="middle" fill="#2b9058"  stroke="#2b9058" stroke-width="0.3">3</text>
<text x="592.5" y="658.2" font-size="9.4" text-anchor="middle" fill="#f0a232"  stroke="#f0a232" stroke-width="0.3">3</text>
<text x="626.4" y="572.0" font-size="9.4" text-anchor="middle" fill="#2b9058"  stroke="#2b9058" stroke-width="0.3">4</text>
<text x="558.5" y="658.2" font-size="9.4" text-anchor="middle" fill="#f0a232"  stroke="#f0a232" stroke-width="0.3">4</text>
<text x="660.3" y="572.0" font-size="9.4" text-anchor="middle" fill="#2b9058"  stroke="#2b9058" stroke-width="0.3">5</text>
<text x="524.6" y="658.2" font-size="9.4" text-anchor="middle" fill="#f0a232"  stroke="#f0a232" stroke-width="0.3">5</text>
<text x="521.0" y="651.1" font-size="9.4" text-anchor="end" fill="#2b9058"  stroke="#2b9058" stroke-width="0.3">0</text>
<text x="664.7" y="651.1" font-size="9.4" text-anchor="start" fill="#f0a232"  stroke="#f0a232" stroke-width="0.3">0</text>
<text x="521.0" y="633.0" font-size="9.4" text-anchor="end" fill="#2b9058"  stroke="#2b9058" stroke-width="0.3">2</text>
<text x="664.7" y="633.0" font-size="9.4" text-anchor="start" fill="#f0a232"  stroke="#f0a232" stroke-width="0.3">2</text>
<text x="521.0" y="614.9" font-size="9.4" text-anchor="end" fill="#2b9058"  stroke="#2b9058" stroke-width="0.3">4</text>
<text x="664.7" y="614.9" font-size="9.4" text-anchor="start" fill="#f0a232"  stroke="#f0a232" stroke-width="0.3">4</text>
<text x="521.0" y="596.8" font-size="9.4" text-anchor="end" fill="#2b9058"  stroke="#2b9058" stroke-width="0.3">6</text>
<text x="664.7" y="596.8" font-size="9.4" text-anchor="start" fill="#f0a232"  stroke="#f0a232" stroke-width="0.3">6</text>
<text x="521.0" y="578.7" font-size="9.4" text-anchor="end" fill="#2b9058"  stroke="#2b9058" stroke-width="0.3">8</text>
<text x="664.7" y="578.7" font-size="9.4" text-anchor="start" fill="#f0a232"  stroke="#f0a232" stroke-width="0.3">8</text>
<text x="592.7" y="564.9" font-size="13" font-style="italic" fill="#2b9058" text-anchor="middle">k</text>
<text x="591.7" y="669.0" font-size="13" font-style="italic" fill="#f0a232" text-anchor="middle">k′</text>
<polyline points="660.30,608.53 626.38,623.01 592.45,630.25 558.52,638.40 524.60,647.90" stroke="#f0a232" stroke-width="1.3" fill="none" />
<path d="M659.00,607.23L661.60,609.83M659.00,609.83L661.60,607.23" stroke="#f0a232" stroke-width="0.8"/>
<path d="M625.08,621.71L627.67,624.31M625.08,624.31L627.67,621.71" stroke="#f0a232" stroke-width="0.8"/>
<path d="M591.15,628.95L593.75,631.55M591.15,631.55L593.75,628.95" stroke="#f0a232" stroke-width="0.8"/>
<path d="M557.23,637.10L559.82,639.70M557.23,639.70L559.82,637.10" stroke="#f0a232" stroke-width="0.8"/>
<path d="M523.30,646.60L525.90,649.20M523.30,649.20L525.90,646.60" stroke="#f0a232" stroke-width="0.8"/>
<polyline points="592.45,630.25 626.38,620.75 660.30,608.53" stroke="#2b9058" stroke-width="1.3" fill="none" />
<path d="M591.15,628.95L593.75,631.55M591.15,631.55L593.75,628.95" stroke="#2b9058" stroke-width="0.8"/>
<path d="M625.08,619.45L627.67,622.05M625.08,622.05L627.67,619.45" stroke="#2b9058" stroke-width="0.8"/>
<path d="M659.00,607.23L661.60,609.83M659.00,609.83L661.60,607.23" stroke="#2b9058" stroke-width="0.8"/>
<line x1="528.40" y1="582.90" x2="537.40" y2="582.90" stroke="#2b9058" stroke-width="0.9" />
<rect x="531.9" y="581.8" width="2.2" height="2.2" fill="#2b9058"/>
<text x="538.9" y="587.2" font-size="13.2" fill="#2b9058"><tspan font-style="italic">C</tspan><tspan font-size="9" dy="2.6"><tspan font-style="italic">k</tspan>−part,<tspan font-style="italic">A</tspan><tspan font-size="6" dy="1.2">C</tspan></tspan></text>
<line x1="597.10" y1="640.50" x2="606.10" y2="640.50" stroke="#f0a232" stroke-width="0.9" />
<rect x="600.6" y="639.4" width="2.2" height="2.2" fill="#f0a232"/>
<text x="607.6" y="644.8" font-size="13.2" fill="#f0a232"><tspan font-style="italic">C</tspan><tspan font-size="9" dy="2.6"><tspan font-style="italic">k′</tspan>−prod,<tspan font-style="italic">A</tspan><tspan font-size="6" dy="1.2">C</tspan></tspan></text>
<text x="542.6" y="623.8" font-size="10.2" text-anchor="start" fill="#000"  >×0.01</text>
<polygon points="74.50,68.90 66.93,57.43 79.20,43.00 88.80,43.00 101.07,57.43 93.50,68.90" fill="none" stroke="#7070e6" stroke-width="1.2" stroke-dasharray="3.4,2.2" stroke-linejoin="round"/>
<circle cx="84.00" cy="23.40" r="5.8" fill="none" stroke="#7070e6" stroke-width="1.2" stroke-dasharray="3.4,2.2"/>
<polygon points="108.78,77.72 114.93,65.43 133.56,68.84 138.36,77.16 132.00,95.00 118.28,94.18" fill="none" stroke="#7070e6" stroke-width="1.2" stroke-dasharray="3.4,2.2" stroke-linejoin="round"/>
<circle cx="152.94" cy="63.20" r="5.8" fill="none" stroke="#7070e6" stroke-width="1.2" stroke-dasharray="3.4,2.2"/>
<polygon points="118.28,111.82 132.00,111.00 138.36,128.84 133.56,137.16 114.93,140.57 108.78,128.28" fill="none" stroke="#7070e6" stroke-width="1.2" stroke-dasharray="3.4,2.2" stroke-linejoin="round"/>
<circle cx="152.94" cy="142.80" r="5.8" fill="none" stroke="#7070e6" stroke-width="1.2" stroke-dasharray="3.4,2.2"/>
<polygon points="93.50,137.10 101.07,148.57 88.80,163.00 79.20,163.00 66.93,148.57 74.50,137.10" fill="none" stroke="#7070e6" stroke-width="1.2" stroke-dasharray="3.4,2.2" stroke-linejoin="round"/>
<circle cx="84.00" cy="182.60" r="5.8" fill="none" stroke="#7070e6" stroke-width="1.2" stroke-dasharray="3.4,2.2"/>
<polygon points="59.22,128.28 53.07,140.57 34.44,137.16 29.64,128.84 36.00,111.00 49.72,111.82" fill="none" stroke="#7070e6" stroke-width="1.2" stroke-dasharray="3.4,2.2" stroke-linejoin="round"/>
<circle cx="15.06" cy="142.80" r="5.8" fill="none" stroke="#7070e6" stroke-width="1.2" stroke-dasharray="3.4,2.2"/>
<polygon points="49.72,94.18 36.00,95.00 29.64,77.16 34.44,68.84 53.07,65.43 59.22,77.72" fill="none" stroke="#7070e6" stroke-width="1.2" stroke-dasharray="3.4,2.2" stroke-linejoin="round"/>
<circle cx="15.06" cy="63.20" r="5.8" fill="none" stroke="#7070e6" stroke-width="1.2" stroke-dasharray="3.4,2.2"/>
<line x1="84.00" y1="69.70" x2="84.00" y2="136.30" stroke="#9a9a9a" stroke-width="0.9" />
<line x1="112.84" y1="86.35" x2="55.16" y2="119.65" stroke="#9a9a9a" stroke-width="0.9" />
<line x1="112.84" y1="119.65" x2="55.16" y2="86.35" stroke="#9a9a9a" stroke-width="0.9" />
<polygon points="84.00,63.70 118.04,83.35 118.04,122.65 84.00,142.30 49.96,122.65 49.96,83.35" stroke="#666" stroke-width="0.65" fill="none" stroke-dasharray="0.8,0.8" stroke-linejoin="round"/>
<polygon points="84.00,66.24 115.84,84.62 115.84,121.38 84.00,139.76 52.16,121.38 52.16,84.62" stroke="#e03c3c" stroke-width="1.5" fill="none" stroke-linejoin="round"/>
<polygon points="84.00,69.70 112.84,86.35 112.84,119.65 84.00,136.30 55.16,119.65 55.16,86.35" stroke="#2a2a2a" stroke-width="1.25" fill="none" stroke-linejoin="miter"/>
<circle cx="84.00" cy="69.70" r="1.4" fill="#000"/>
<circle cx="112.84" cy="86.35" r="1.4" fill="#000"/>
<circle cx="112.84" cy="119.65" r="1.4" fill="#000"/>
<circle cx="84.00" cy="136.30" r="1.4" fill="#000"/>
<circle cx="55.16" cy="119.65" r="1.4" fill="#000"/>
<circle cx="55.16" cy="86.35" r="1.4" fill="#000"/>
<circle cx="84.00" cy="69.70" r="3.4" fill="none" stroke="#7070e6" stroke-width="0.9" stroke-dasharray="2.2,1.6"/>
<circle cx="112.84" cy="86.35" r="3.4" fill="none" stroke="#7070e6" stroke-width="0.9" stroke-dasharray="2.2,1.6"/>
<circle cx="112.84" cy="119.65" r="3.4" fill="none" stroke="#7070e6" stroke-width="0.9" stroke-dasharray="2.2,1.6"/>
<circle cx="84.00" cy="136.30" r="3.4" fill="none" stroke="#7070e6" stroke-width="0.9" stroke-dasharray="2.2,1.6"/>
<circle cx="55.16" cy="119.65" r="3.4" fill="none" stroke="#7070e6" stroke-width="0.9" stroke-dasharray="2.2,1.6"/>
<circle cx="55.16" cy="86.35" r="3.4" fill="none" stroke="#7070e6" stroke-width="0.9" stroke-dasharray="2.2,1.6"/>
<line x1="117.01" y1="71.83" x2="94.49" y2="58.83" stroke="#e03c3c" stroke-width="7.85" stroke-linecap="round"/>
<line x1="117.01" y1="71.83" x2="94.49" y2="58.83" stroke="#fff" stroke-width="4.75" stroke-linecap="round"/>
<line x1="117.01" y1="71.83" x2="94.49" y2="58.83" stroke="#000" stroke-width="1.1"/>
<circle cx="117.01" cy="71.83" r="1.25" fill="#000"/>
<circle cx="94.49" cy="58.83" r="1.25" fill="#000"/>
<line x1="127.50" y1="116.00" x2="127.50" y2="90.00" stroke="#e03c3c" stroke-width="7.85" stroke-linecap="round"/>
<line x1="127.50" y1="116.00" x2="127.50" y2="90.00" stroke="#fff" stroke-width="4.75" stroke-linecap="round"/>
<line x1="127.50" y1="116.00" x2="127.50" y2="90.00" stroke="#000" stroke-width="1.1"/>
<circle cx="127.50" cy="116.00" r="1.25" fill="#000"/>
<circle cx="127.50" cy="90.00" r="1.25" fill="#000"/>
<line x1="94.49" y1="147.17" x2="117.01" y2="134.17" stroke="#e03c3c" stroke-width="7.85" stroke-linecap="round"/>
<line x1="94.49" y1="147.17" x2="117.01" y2="134.17" stroke="#fff" stroke-width="4.75" stroke-linecap="round"/>
<line x1="94.49" y1="147.17" x2="117.01" y2="134.17" stroke="#000" stroke-width="1.1"/>
<circle cx="94.49" cy="147.17" r="1.25" fill="#000"/>
<circle cx="117.01" cy="134.17" r="1.25" fill="#000"/>
<line x1="50.99" y1="134.17" x2="73.51" y2="147.17" stroke="#e03c3c" stroke-width="7.85" stroke-linecap="round"/>
<line x1="50.99" y1="134.17" x2="73.51" y2="147.17" stroke="#fff" stroke-width="4.75" stroke-linecap="round"/>
<line x1="50.99" y1="134.17" x2="73.51" y2="147.17" stroke="#000" stroke-width="1.1"/>
<circle cx="50.99" cy="134.17" r="1.25" fill="#000"/>
<circle cx="73.51" cy="147.17" r="1.25" fill="#000"/>
<line x1="40.50" y1="90.00" x2="40.50" y2="116.00" stroke="#e03c3c" stroke-width="7.85" stroke-linecap="round"/>
<line x1="40.50" y1="90.00" x2="40.50" y2="116.00" stroke="#fff" stroke-width="4.75" stroke-linecap="round"/>
<line x1="40.50" y1="90.00" x2="40.50" y2="116.00" stroke="#000" stroke-width="1.1"/>
<circle cx="40.50" cy="90.00" r="1.25" fill="#000"/>
<circle cx="40.50" cy="116.00" r="1.25" fill="#000"/>
<line x1="73.51" y1="58.83" x2="50.99" y2="71.83" stroke="#e03c3c" stroke-width="7.85" stroke-linecap="round"/>
<line x1="73.51" y1="58.83" x2="50.99" y2="71.83" stroke="#fff" stroke-width="4.75" stroke-linecap="round"/>
<line x1="73.51" y1="58.83" x2="50.99" y2="71.83" stroke="#000" stroke-width="1.1"/>
<circle cx="73.51" cy="58.83" r="1.25" fill="#000"/>
<circle cx="50.99" cy="71.83" r="1.25" fill="#000"/>
<circle cx="84.00" cy="58.90" r="3.1" fill="#fff" stroke="#e03c3c" stroke-width="1.55"/>
<circle cx="84.00" cy="58.90" r="1.2" fill="#000"/>
<line x1="84.00" y1="48.50" x2="84.00" y2="23.70" stroke="#e03c3c" stroke-width="7.85" stroke-linecap="round"/>
<line x1="84.00" y1="48.50" x2="84.00" y2="23.70" stroke="#fff" stroke-width="4.75" stroke-linecap="round"/>
<line x1="84.00" y1="48.50" x2="84.00" y2="23.70" stroke="#000" stroke-width="1.1"/>
<circle cx="84.00" cy="48.50" r="1.25" fill="#000"/>
<circle cx="84.00" cy="23.70" r="1.25" fill="#000"/>
<circle cx="122.19" cy="80.95" r="3.1" fill="#fff" stroke="#e03c3c" stroke-width="1.55"/>
<circle cx="122.19" cy="80.95" r="1.2" fill="#000"/>
<line x1="131.20" y1="75.75" x2="152.68" y2="63.35" stroke="#e03c3c" stroke-width="7.85" stroke-linecap="round"/>
<line x1="131.20" y1="75.75" x2="152.68" y2="63.35" stroke="#fff" stroke-width="4.75" stroke-linecap="round"/>
<line x1="131.20" y1="75.75" x2="152.68" y2="63.35" stroke="#000" stroke-width="1.1"/>
<circle cx="131.20" cy="75.75" r="1.25" fill="#000"/>
<circle cx="152.68" cy="63.35" r="1.25" fill="#000"/>
<circle cx="122.19" cy="125.05" r="3.1" fill="#fff" stroke="#e03c3c" stroke-width="1.55"/>
<circle cx="122.19" cy="125.05" r="1.2" fill="#000"/>
<line x1="131.20" y1="130.25" x2="152.68" y2="142.65" stroke="#e03c3c" stroke-width="7.85" stroke-linecap="round"/>
<line x1="131.20" y1="130.25" x2="152.68" y2="142.65" stroke="#fff" stroke-width="4.75" stroke-linecap="round"/>
<line x1="131.20" y1="130.25" x2="152.68" y2="142.65" stroke="#000" stroke-width="1.1"/>
<circle cx="131.20" cy="130.25" r="1.25" fill="#000"/>
<circle cx="152.68" cy="142.65" r="1.25" fill="#000"/>
<circle cx="84.00" cy="147.10" r="3.1" fill="#fff" stroke="#e03c3c" stroke-width="1.55"/>
<circle cx="84.00" cy="147.10" r="1.2" fill="#000"/>
<line x1="84.00" y1="157.50" x2="84.00" y2="182.30" stroke="#e03c3c" stroke-width="7.85" stroke-linecap="round"/>
<line x1="84.00" y1="157.50" x2="84.00" y2="182.30" stroke="#fff" stroke-width="4.75" stroke-linecap="round"/>
<line x1="84.00" y1="157.50" x2="84.00" y2="182.30" stroke="#000" stroke-width="1.1"/>
<circle cx="84.00" cy="157.50" r="1.25" fill="#000"/>
<circle cx="84.00" cy="182.30" r="1.25" fill="#000"/>
<circle cx="45.81" cy="125.05" r="3.1" fill="#fff" stroke="#e03c3c" stroke-width="1.55"/>
<circle cx="45.81" cy="125.05" r="1.2" fill="#000"/>
<line x1="36.80" y1="130.25" x2="15.32" y2="142.65" stroke="#e03c3c" stroke-width="7.85" stroke-linecap="round"/>
<line x1="36.80" y1="130.25" x2="15.32" y2="142.65" stroke="#fff" stroke-width="4.75" stroke-linecap="round"/>
<line x1="36.80" y1="130.25" x2="15.32" y2="142.65" stroke="#000" stroke-width="1.1"/>
<circle cx="36.80" cy="130.25" r="1.25" fill="#000"/>
<circle cx="15.32" cy="142.65" r="1.25" fill="#000"/>
<circle cx="45.81" cy="80.95" r="3.1" fill="#fff" stroke="#e03c3c" stroke-width="1.55"/>
<circle cx="45.81" cy="80.95" r="1.2" fill="#000"/>
<line x1="36.80" y1="75.75" x2="15.32" y2="63.35" stroke="#e03c3c" stroke-width="7.85" stroke-linecap="round"/>
<line x1="36.80" y1="75.75" x2="15.32" y2="63.35" stroke="#fff" stroke-width="4.75" stroke-linecap="round"/>
<line x1="36.80" y1="75.75" x2="15.32" y2="63.35" stroke="#000" stroke-width="1.1"/>
<circle cx="36.80" cy="75.75" r="1.25" fill="#000"/>
<circle cx="15.32" cy="63.35" r="1.25" fill="#000"/>
<text x="46.0" y="30.8" font-size="9.0" text-anchor="middle" fill="#000"  >(2s, 2p<tspan font-size="6" dy="1.5">x</tspan><tspan dy="-1.5">, 2p</tspan><tspan font-size="6" dy="1.5">y</tspan><tspan dy="-1.5">)</tspan></text>
<text x="46.0" y="44.0" font-size="8.8" text-anchor="middle" fill="#000"  >hybrids</text>
<line x1="44.20" y1="48.50" x2="37.60" y2="74.80" stroke="#000" stroke-width="0.8" />
<polygon points="37.60,74.80 37.07,71.57 39.59,72.21" fill="#000"/>
<line x1="45.80" y1="48.50" x2="41.60" y2="80.50" stroke="#000" stroke-width="0.8" />
<polygon points="41.60,80.50 40.70,77.36 43.28,77.69" fill="#000"/>
<line x1="47.60" y1="48.50" x2="51.30" y2="70.00" stroke="#000" stroke-width="0.8" />
<polygon points="51.30,70.00 49.51,67.26 52.07,66.82" fill="#000"/>
<text x="15.6" y="93.2" font-size="9.2" text-anchor="middle" fill="#000"  >1s</text>
<text x="17.0" y="104.2" font-size="9.2" text-anchor="middle" fill="#000"  >2p<tspan font-size="6" dy="1.5">z</tspan></text>
<polyline points="15.30,65.50 15.30,82.60 41.00,82.60" stroke="#000" stroke-width="0.8" fill="none" />
<line x1="41.00" y1="94.00" x2="41.00" y2="83.50" stroke="#000" stroke-width="0.8" />
<polygon points="41.00,83.50 42.30,86.50 39.70,86.50" fill="#000"/>
<line x1="27.60" y1="102.10" x2="55.00" y2="86.60" stroke="#000" stroke-width="0.8" />
<text x="114.8" y="45.5" font-size="11" text-anchor="middle"><tspan font-style="italic">X</tspan><tspan font-size="6.5" dy="1.8">in</tspan></text>
<line x1="114.80" y1="49.80" x2="102.20" y2="72.50" stroke="#000" stroke-width="0.9" />
<polygon points="102.20,72.50 102.55,68.58 105.35,70.13" fill="#000"/>
<g transform="translate(16.0,184.7) scale(1,1.12)"><text x="0" y="0" font-size="13.2"><tspan font-style="italic">C</tspan><tspan font-size="9.6" dy="2.2" font-style="italic">β</tspan><tspan dy="-1.2" dx="4.4" font-size="16">=</tspan><tspan dx="4.0" dy="-1.0" letter-spacing="0.35">2.35</tspan></text></g>
<g transform="translate(101.6,184.7) scale(1,1.12)"><text x="0" y="0" font-size="13.2"><tspan font-style="italic">C</tspan><tspan font-size="9.6" dy="2.2" font-style="italic">α</tspan><tspan dy="-1.2" dx="4.4" font-size="16">=</tspan><tspan dx="4.0" dy="-1.0" letter-spacing="0.35">29.52</tspan></text></g>
<polygon points="264.20,137.50 271.68,147.94 259.50,163.30 249.90,163.30 237.72,147.94 245.20,137.50" fill="none" stroke="#7070e6" stroke-width="1.2" stroke-dasharray="3.4,2.2" stroke-linejoin="round"/>
<circle cx="254.70" cy="182.90" r="5.8" fill="none" stroke="#7070e6" stroke-width="1.2" stroke-dasharray="3.4,2.2"/>
<polygon points="225.11,122.90 217.49,133.25 199.12,126.41 196.15,117.28 206.99,100.94 219.24,104.83" fill="none" stroke="#7070e6" stroke-width="1.2" stroke-dasharray="3.4,2.2" stroke-linejoin="round"/>
<circle cx="179.00" cy="127.90" r="5.8" fill="none" stroke="#7070e6" stroke-width="1.2" stroke-dasharray="3.4,2.2"/>
<polygon points="226.91,81.22 214.72,77.17 215.55,57.58 223.32,51.94 242.20,57.20 242.28,70.05" fill="none" stroke="#7070e6" stroke-width="1.2" stroke-dasharray="3.4,2.2" stroke-linejoin="round"/>
<circle cx="207.91" cy="38.90" r="5.8" fill="none" stroke="#7070e6" stroke-width="1.2" stroke-dasharray="3.4,2.2"/>
<polygon points="267.12,70.05 267.20,57.20 286.08,51.94 293.85,57.58 294.68,77.17 282.49,81.22" fill="none" stroke="#7070e6" stroke-width="1.2" stroke-dasharray="3.4,2.2" stroke-linejoin="round"/>
<circle cx="301.49" cy="38.90" r="5.8" fill="none" stroke="#7070e6" stroke-width="1.2" stroke-dasharray="3.4,2.2"/>
<polygon points="290.16,104.83 302.41,100.94 313.25,117.28 310.28,126.41 291.91,133.25 284.29,122.90" fill="none" stroke="#7070e6" stroke-width="1.2" stroke-dasharray="3.4,2.2" stroke-linejoin="round"/>
<circle cx="330.40" cy="127.90" r="5.8" fill="none" stroke="#7070e6" stroke-width="1.2" stroke-dasharray="3.4,2.2"/>
<line x1="254.70" y1="136.70" x2="235.07" y2="76.28" stroke="#8a8a8a" stroke-width="0.9" />
<line x1="254.70" y1="136.70" x2="274.33" y2="76.28" stroke="#8a8a8a" stroke-width="0.9" />
<line x1="222.93" y1="113.62" x2="286.47" y2="113.62" stroke="#8a8a8a" stroke-width="0.9" />
<line x1="222.93" y1="113.62" x2="274.33" y2="76.28" stroke="#d2d2d2" stroke-width="0.9" />
<line x1="235.07" y1="76.28" x2="286.47" y2="113.62" stroke="#d2d2d2" stroke-width="0.9" />
<polygon points="254.70,143.13 216.82,115.61 231.29,71.08 278.11,71.08 292.58,115.61" stroke="#666" stroke-width="0.65" fill="none" stroke-dasharray="0.8,0.8" stroke-linejoin="round"/>
<polygon points="254.70,140.41 219.41,114.77 232.89,73.28 276.51,73.28 289.99,114.77" stroke="#e03c3c" stroke-width="1.5" fill="none" stroke-linejoin="round"/>
<polygon points="254.70,136.70 222.93,113.62 235.07,76.28 274.33,76.28 286.47,113.62" stroke="#2a2a2a" stroke-width="1.25" fill="none" stroke-linejoin="miter"/>
<circle cx="254.70" cy="136.70" r="1.4" fill="#000"/>
<circle cx="222.93" cy="113.62" r="1.4" fill="#000"/>
<circle cx="235.07" cy="76.28" r="1.4" fill="#000"/>
<circle cx="274.33" cy="76.28" r="1.4" fill="#000"/>
<circle cx="286.47" cy="113.62" r="1.4" fill="#000"/>
<circle cx="254.70" cy="136.70" r="3.4" fill="none" stroke="#7070e6" stroke-width="0.9" stroke-dasharray="2.2,1.6"/>
<circle cx="222.93" cy="113.62" r="3.4" fill="none" stroke="#7070e6" stroke-width="0.9" stroke-dasharray="2.2,1.6"/>
<circle cx="235.07" cy="76.28" r="3.4" fill="none" stroke="#7070e6" stroke-width="0.9" stroke-dasharray="2.2,1.6"/>
<circle cx="274.33" cy="76.28" r="3.4" fill="none" stroke="#7070e6" stroke-width="0.9" stroke-dasharray="2.2,1.6"/>
<circle cx="286.47" cy="113.62" r="3.4" fill="none" stroke="#7070e6" stroke-width="0.9" stroke-dasharray="2.2,1.6"/>
<line x1="216.09" y1="126.67" x2="244.41" y2="147.24" stroke="#e03c3c" stroke-width="7.85" stroke-linecap="round"/>
<line x1="216.09" y1="126.67" x2="244.41" y2="147.24" stroke="#fff" stroke-width="4.75" stroke-linecap="round"/>
<line x1="216.09" y1="126.67" x2="244.41" y2="147.24" stroke="#000" stroke-width="1.1"/>
<circle cx="216.09" cy="126.67" r="1.25" fill="#000"/>
<circle cx="244.41" cy="147.24" r="1.25" fill="#000"/>
<line x1="220.54" y1="73.80" x2="209.73" y2="107.09" stroke="#e03c3c" stroke-width="7.85" stroke-linecap="round"/>
<line x1="220.54" y1="73.80" x2="209.73" y2="107.09" stroke="#fff" stroke-width="4.75" stroke-linecap="round"/>
<line x1="220.54" y1="73.80" x2="209.73" y2="107.09" stroke="#000" stroke-width="1.1"/>
<circle cx="220.54" cy="73.80" r="1.25" fill="#000"/>
<circle cx="209.73" cy="107.09" r="1.25" fill="#000"/>
<line x1="272.20" y1="61.70" x2="237.20" y2="61.70" stroke="#e03c3c" stroke-width="7.85" stroke-linecap="round"/>
<line x1="272.20" y1="61.70" x2="237.20" y2="61.70" stroke="#fff" stroke-width="4.75" stroke-linecap="round"/>
<line x1="272.20" y1="61.70" x2="237.20" y2="61.70" stroke="#000" stroke-width="1.1"/>
<circle cx="272.20" cy="61.70" r="1.25" fill="#000"/>
<circle cx="237.20" cy="61.70" r="1.25" fill="#000"/>
<line x1="299.67" y1="107.09" x2="288.86" y2="73.80" stroke="#e03c3c" stroke-width="7.85" stroke-linecap="round"/>
<line x1="299.67" y1="107.09" x2="288.86" y2="73.80" stroke="#fff" stroke-width="4.75" stroke-linecap="round"/>
<line x1="299.67" y1="107.09" x2="288.86" y2="73.80" stroke="#000" stroke-width="1.1"/>
<circle cx="299.67" cy="107.09" r="1.25" fill="#000"/>
<circle cx="288.86" cy="73.80" r="1.25" fill="#000"/>
<line x1="264.99" y1="147.24" x2="293.31" y2="126.67" stroke="#e03c3c" stroke-width="7.85" stroke-linecap="round"/>
<line x1="264.99" y1="147.24" x2="293.31" y2="126.67" stroke="#fff" stroke-width="4.75" stroke-linecap="round"/>
<line x1="264.99" y1="147.24" x2="293.31" y2="126.67" stroke="#000" stroke-width="1.1"/>
<circle cx="264.99" cy="147.24" r="1.25" fill="#000"/>
<circle cx="293.31" cy="126.67" r="1.25" fill="#000"/>
<circle cx="254.70" cy="147.40" r="3.1" fill="#fff" stroke="#e03c3c" stroke-width="1.55"/>
<circle cx="254.70" cy="147.40" r="1.2" fill="#000"/>
<line x1="254.70" y1="157.80" x2="254.70" y2="182.60" stroke="#e03c3c" stroke-width="7.85" stroke-linecap="round"/>
<line x1="254.70" y1="157.80" x2="254.70" y2="182.60" stroke="#fff" stroke-width="4.75" stroke-linecap="round"/>
<line x1="254.70" y1="157.80" x2="254.70" y2="182.60" stroke="#000" stroke-width="1.1"/>
<circle cx="254.70" cy="157.80" r="1.25" fill="#000"/>
<circle cx="254.70" cy="182.60" r="1.25" fill="#000"/>
<circle cx="212.76" cy="116.93" r="3.1" fill="#fff" stroke="#e03c3c" stroke-width="1.55"/>
<circle cx="212.76" cy="116.93" r="1.2" fill="#000"/>
<line x1="202.87" y1="120.14" x2="179.28" y2="127.81" stroke="#e03c3c" stroke-width="7.85" stroke-linecap="round"/>
<line x1="202.87" y1="120.14" x2="179.28" y2="127.81" stroke="#fff" stroke-width="4.75" stroke-linecap="round"/>
<line x1="202.87" y1="120.14" x2="179.28" y2="127.81" stroke="#000" stroke-width="1.1"/>
<circle cx="202.87" cy="120.14" r="1.25" fill="#000"/>
<circle cx="179.28" cy="127.81" r="1.25" fill="#000"/>
<circle cx="228.78" cy="67.62" r="3.1" fill="#fff" stroke="#e03c3c" stroke-width="1.55"/>
<circle cx="228.78" cy="67.62" r="1.2" fill="#000"/>
<line x1="222.67" y1="59.21" x2="208.09" y2="39.14" stroke="#e03c3c" stroke-width="7.85" stroke-linecap="round"/>
<line x1="222.67" y1="59.21" x2="208.09" y2="39.14" stroke="#fff" stroke-width="4.75" stroke-linecap="round"/>
<line x1="222.67" y1="59.21" x2="208.09" y2="39.14" stroke="#000" stroke-width="1.1"/>
<circle cx="222.67" cy="59.21" r="1.25" fill="#000"/>
<circle cx="208.09" cy="39.14" r="1.25" fill="#000"/>
<circle cx="280.62" cy="67.62" r="3.1" fill="#fff" stroke="#e03c3c" stroke-width="1.55"/>
<circle cx="280.62" cy="67.62" r="1.2" fill="#000"/>
<line x1="286.73" y1="59.21" x2="301.31" y2="39.14" stroke="#e03c3c" stroke-width="7.85" stroke-linecap="round"/>
<line x1="286.73" y1="59.21" x2="301.31" y2="39.14" stroke="#fff" stroke-width="4.75" stroke-linecap="round"/>
<line x1="286.73" y1="59.21" x2="301.31" y2="39.14" stroke="#000" stroke-width="1.1"/>
<circle cx="286.73" cy="59.21" r="1.25" fill="#000"/>
<circle cx="301.31" cy="39.14" r="1.25" fill="#000"/>
<circle cx="296.64" cy="116.93" r="3.1" fill="#fff" stroke="#e03c3c" stroke-width="1.55"/>
<circle cx="296.64" cy="116.93" r="1.2" fill="#000"/>
<line x1="306.53" y1="120.14" x2="330.12" y2="127.81" stroke="#e03c3c" stroke-width="7.85" stroke-linecap="round"/>
<line x1="306.53" y1="120.14" x2="330.12" y2="127.81" stroke="#fff" stroke-width="4.75" stroke-linecap="round"/>
<line x1="306.53" y1="120.14" x2="330.12" y2="127.81" stroke="#000" stroke-width="1.1"/>
<circle cx="306.53" cy="120.14" r="1.25" fill="#000"/>
<circle cx="330.12" cy="127.81" r="1.25" fill="#000"/>
<text x="274.2" y="162.8" font-size="12.2" text-anchor="middle" fill="#7b7be0"  >N</text>
<text x="255.0" y="45.3" font-size="11" text-anchor="middle"><tspan font-style="italic">X</tspan><tspan font-size="6.5" dy="1.8">in</tspan></text>
<line x1="255.00" y1="48.50" x2="255.00" y2="69.80" stroke="#000" stroke-width="0.9" />
<polygon points="255.00,69.80 253.40,66.20 256.60,66.20" fill="#000"/>
<g transform="translate(186.5,184.7) scale(1,1.12)"><text x="0" y="0" font-size="13.2"><tspan font-style="italic">C</tspan><tspan font-size="9.6" dy="2.2" font-style="italic">β</tspan><tspan dy="-1.2" dx="4.4" font-size="16">=</tspan><tspan dx="4.0" dy="-1.0" letter-spacing="0.35">2.11</tspan></text></g>
<g transform="translate(271.7,184.7) scale(1,1.12)"><text x="0" y="0" font-size="13.2"><tspan font-style="italic">C</tspan><tspan font-size="9.6" dy="2.2" font-style="italic">α</tspan><tspan dy="-1.2" dx="4.4" font-size="16">=</tspan><tspan dx="4.0" dy="-1.0" letter-spacing="0.35">24.20</tspan></text></g>
<polygon points="434.80,137.50 442.28,147.94 430.10,163.30 420.50,163.30 408.32,147.94 415.80,137.50" fill="none" stroke="#7070e6" stroke-width="1.2" stroke-dasharray="3.4,2.2" stroke-linejoin="round"/>
<circle cx="425.30" cy="182.90" r="5.8" fill="none" stroke="#7070e6" stroke-width="1.2" stroke-dasharray="3.4,2.2"/>
<polygon points="395.71,122.90 388.09,133.25 369.72,126.41 366.75,117.28 377.59,100.94 389.84,104.83" fill="none" stroke="#7070e6" stroke-width="1.2" stroke-dasharray="3.4,2.2" stroke-linejoin="round"/>
<circle cx="349.60" cy="127.90" r="5.8" fill="none" stroke="#7070e6" stroke-width="1.2" stroke-dasharray="3.4,2.2"/>
<polygon points="397.51,81.22 385.32,77.17 386.15,57.58 393.92,51.94 412.80,57.20 412.88,70.05" fill="none" stroke="#7070e6" stroke-width="1.2" stroke-dasharray="3.4,2.2" stroke-linejoin="round"/>
<circle cx="378.51" cy="38.90" r="5.8" fill="none" stroke="#7070e6" stroke-width="1.2" stroke-dasharray="3.4,2.2"/>
<polygon points="437.72,70.05 437.80,57.20 456.68,51.94 464.45,57.58 465.28,77.17 453.09,81.22" fill="none" stroke="#7070e6" stroke-width="1.2" stroke-dasharray="3.4,2.2" stroke-linejoin="round"/>
<circle cx="472.09" cy="38.90" r="5.8" fill="none" stroke="#7070e6" stroke-width="1.2" stroke-dasharray="3.4,2.2"/>
<polygon points="460.76,104.83 473.01,100.94 483.85,117.28 480.88,126.41 462.51,133.25 454.89,122.90" fill="none" stroke="#7070e6" stroke-width="1.2" stroke-dasharray="3.4,2.2" stroke-linejoin="round"/>
<circle cx="501.00" cy="127.90" r="5.8" fill="none" stroke="#7070e6" stroke-width="1.2" stroke-dasharray="3.4,2.2"/>
<line x1="425.30" y1="136.70" x2="405.67" y2="76.28" stroke="#8a8a8a" stroke-width="0.9" />
<line x1="425.30" y1="136.70" x2="444.93" y2="76.28" stroke="#8a8a8a" stroke-width="0.9" />
<line x1="393.53" y1="113.62" x2="457.07" y2="113.62" stroke="#c0c0c0" stroke-width="0.9" />
<line x1="405.67" y1="76.28" x2="444.93" y2="76.28" stroke="#b5b5b5" stroke-width="0.9" />
<line x1="425.30" y1="136.70" x2="393.53" y2="113.62" stroke="#b5b5b5" stroke-width="0.9" />
<line x1="425.30" y1="136.70" x2="457.07" y2="113.62" stroke="#b5b5b5" stroke-width="0.9" />
<polygon points="425.30,143.13 387.42,115.61 401.89,71.08 448.71,71.08 463.18,115.61" stroke="#666" stroke-width="0.65" fill="none" stroke-dasharray="0.8,0.8" stroke-linejoin="round"/>
<circle cx="425.30" cy="136.70" r="3.4" fill="none" stroke="#7070e6" stroke-width="0.9" stroke-dasharray="2.2,1.6"/>
<circle cx="393.53" cy="113.62" r="3.4" fill="none" stroke="#7070e6" stroke-width="0.9" stroke-dasharray="2.2,1.6"/>
<circle cx="405.67" cy="76.28" r="3.4" fill="none" stroke="#7070e6" stroke-width="0.9" stroke-dasharray="2.2,1.6"/>
<circle cx="444.93" cy="76.28" r="3.4" fill="none" stroke="#7070e6" stroke-width="0.9" stroke-dasharray="2.2,1.6"/>
<circle cx="457.07" cy="113.62" r="3.4" fill="none" stroke="#7070e6" stroke-width="0.9" stroke-dasharray="2.2,1.6"/>
<line x1="386.69" y1="126.67" x2="415.01" y2="147.24" stroke="#e03c3c" stroke-width="7.85" stroke-linecap="round"/>
<line x1="386.69" y1="126.67" x2="415.01" y2="147.24" stroke="#fff" stroke-width="4.75" stroke-linecap="round"/>
<line x1="386.69" y1="126.67" x2="415.01" y2="147.24" stroke="#000" stroke-width="1.1"/>
<circle cx="386.69" cy="126.67" r="1.25" fill="#000"/>
<circle cx="415.01" cy="147.24" r="1.25" fill="#000"/>
<line x1="391.14" y1="73.80" x2="380.33" y2="107.09" stroke="#e03c3c" stroke-width="7.85" stroke-linecap="round"/>
<line x1="391.14" y1="73.80" x2="380.33" y2="107.09" stroke="#fff" stroke-width="4.75" stroke-linecap="round"/>
<line x1="391.14" y1="73.80" x2="380.33" y2="107.09" stroke="#000" stroke-width="1.1"/>
<circle cx="391.14" cy="73.80" r="1.25" fill="#000"/>
<circle cx="380.33" cy="107.09" r="1.25" fill="#000"/>
<line x1="442.80" y1="61.70" x2="407.80" y2="61.70" stroke="#e03c3c" stroke-width="7.85" stroke-linecap="round"/>
<line x1="442.80" y1="61.70" x2="407.80" y2="61.70" stroke="#fff" stroke-width="4.75" stroke-linecap="round"/>
<line x1="442.80" y1="61.70" x2="407.80" y2="61.70" stroke="#000" stroke-width="1.1"/>
<circle cx="442.80" cy="61.70" r="1.25" fill="#000"/>
<circle cx="407.80" cy="61.70" r="1.25" fill="#000"/>
<line x1="470.27" y1="107.09" x2="459.46" y2="73.80" stroke="#e03c3c" stroke-width="7.85" stroke-linecap="round"/>
<line x1="470.27" y1="107.09" x2="459.46" y2="73.80" stroke="#fff" stroke-width="4.75" stroke-linecap="round"/>
<line x1="470.27" y1="107.09" x2="459.46" y2="73.80" stroke="#000" stroke-width="1.1"/>
<circle cx="470.27" cy="107.09" r="1.25" fill="#000"/>
<circle cx="459.46" cy="73.80" r="1.25" fill="#000"/>
<line x1="435.59" y1="147.24" x2="463.91" y2="126.67" stroke="#e03c3c" stroke-width="7.85" stroke-linecap="round"/>
<line x1="435.59" y1="147.24" x2="463.91" y2="126.67" stroke="#fff" stroke-width="4.75" stroke-linecap="round"/>
<line x1="435.59" y1="147.24" x2="463.91" y2="126.67" stroke="#000" stroke-width="1.1"/>
<circle cx="435.59" cy="147.24" r="1.25" fill="#000"/>
<circle cx="463.91" cy="126.67" r="1.25" fill="#000"/>
<circle cx="425.30" cy="147.40" r="3.1" fill="#fff" stroke="#e03c3c" stroke-width="1.55"/>
<circle cx="425.30" cy="147.40" r="1.2" fill="#000"/>
<line x1="425.30" y1="157.80" x2="425.30" y2="182.60" stroke="#e03c3c" stroke-width="7.85" stroke-linecap="round"/>
<line x1="425.30" y1="157.80" x2="425.30" y2="182.60" stroke="#fff" stroke-width="4.75" stroke-linecap="round"/>
<line x1="425.30" y1="157.80" x2="425.30" y2="182.60" stroke="#000" stroke-width="1.1"/>
<circle cx="425.30" cy="157.80" r="1.25" fill="#000"/>
<circle cx="425.30" cy="182.60" r="1.25" fill="#000"/>
<circle cx="383.36" cy="116.93" r="3.1" fill="#fff" stroke="#e03c3c" stroke-width="1.55"/>
<circle cx="383.36" cy="116.93" r="1.2" fill="#000"/>
<line x1="373.47" y1="120.14" x2="349.88" y2="127.81" stroke="#e03c3c" stroke-width="7.85" stroke-linecap="round"/>
<line x1="373.47" y1="120.14" x2="349.88" y2="127.81" stroke="#fff" stroke-width="4.75" stroke-linecap="round"/>
<line x1="373.47" y1="120.14" x2="349.88" y2="127.81" stroke="#000" stroke-width="1.1"/>
<circle cx="373.47" cy="120.14" r="1.25" fill="#000"/>
<circle cx="349.88" cy="127.81" r="1.25" fill="#000"/>
<circle cx="399.38" cy="67.62" r="3.1" fill="#fff" stroke="#e03c3c" stroke-width="1.55"/>
<circle cx="399.38" cy="67.62" r="1.2" fill="#000"/>
<line x1="393.27" y1="59.21" x2="378.69" y2="39.14" stroke="#e03c3c" stroke-width="7.85" stroke-linecap="round"/>
<line x1="393.27" y1="59.21" x2="378.69" y2="39.14" stroke="#fff" stroke-width="4.75" stroke-linecap="round"/>
<line x1="393.27" y1="59.21" x2="378.69" y2="39.14" stroke="#000" stroke-width="1.1"/>
<circle cx="393.27" cy="59.21" r="1.25" fill="#000"/>
<circle cx="378.69" cy="39.14" r="1.25" fill="#000"/>
<circle cx="451.22" cy="67.62" r="3.1" fill="#fff" stroke="#e03c3c" stroke-width="1.55"/>
<circle cx="451.22" cy="67.62" r="1.2" fill="#000"/>
<line x1="457.33" y1="59.21" x2="471.91" y2="39.14" stroke="#e03c3c" stroke-width="7.85" stroke-linecap="round"/>
<line x1="457.33" y1="59.21" x2="471.91" y2="39.14" stroke="#fff" stroke-width="4.75" stroke-linecap="round"/>
<line x1="457.33" y1="59.21" x2="471.91" y2="39.14" stroke="#000" stroke-width="1.1"/>
<circle cx="457.33" cy="59.21" r="1.25" fill="#000"/>
<circle cx="471.91" cy="39.14" r="1.25" fill="#000"/>
<circle cx="467.24" cy="116.93" r="3.1" fill="#fff" stroke="#e03c3c" stroke-width="1.55"/>
<circle cx="467.24" cy="116.93" r="1.2" fill="#000"/>
<line x1="477.13" y1="120.14" x2="500.72" y2="127.81" stroke="#e03c3c" stroke-width="7.85" stroke-linecap="round"/>
<line x1="477.13" y1="120.14" x2="500.72" y2="127.81" stroke="#fff" stroke-width="4.75" stroke-linecap="round"/>
<line x1="477.13" y1="120.14" x2="500.72" y2="127.81" stroke="#000" stroke-width="1.1"/>
<circle cx="477.13" cy="120.14" r="1.25" fill="#000"/>
<circle cx="500.72" cy="127.81" r="1.25" fill="#000"/>
<line x1="405.43" y1="77.03" x2="393.78" y2="112.87" stroke="#e03c3c" stroke-width="7.85" stroke-linecap="round"/>
<line x1="405.43" y1="77.03" x2="393.78" y2="112.87" stroke="#fff" stroke-width="4.75" stroke-linecap="round"/>
<line x1="405.43" y1="77.03" x2="393.78" y2="112.87" stroke="#000" stroke-width="1.1"/>
<circle cx="405.43" cy="77.03" r="1.25" fill="#000"/>
<circle cx="393.78" cy="112.87" r="1.25" fill="#000"/>
<line x1="445.17" y1="77.03" x2="456.82" y2="112.87" stroke="#e03c3c" stroke-width="7.85" stroke-linecap="round"/>
<line x1="445.17" y1="77.03" x2="456.82" y2="112.87" stroke="#fff" stroke-width="4.75" stroke-linecap="round"/>
<line x1="445.17" y1="77.03" x2="456.82" y2="112.87" stroke="#000" stroke-width="1.1"/>
<circle cx="445.17" cy="77.03" r="1.25" fill="#000"/>
<circle cx="456.82" cy="112.87" r="1.25" fill="#000"/>
<circle cx="425.30" cy="136.70" r="3.1" fill="#fff" stroke="#e03c3c" stroke-width="1.55"/>
<circle cx="425.30" cy="136.70" r="1.2" fill="#000"/>
<text x="446.5" y="162.8" font-size="12.2" text-anchor="middle" fill="#7b7be0"  >B</text>
<text x="425.6" y="45.3" font-size="11" text-anchor="middle"><tspan font-style="italic">X</tspan><tspan font-size="6.5" dy="1.8">in</tspan></text>
<line x1="425.60" y1="48.50" x2="425.60" y2="69.80" stroke="#000" stroke-width="0.9" />
<polygon points="425.60,69.80 424.00,66.20 427.20,66.20" fill="#000"/>
<g transform="translate(357.0,184.7) scale(1,1.12)"><text x="0" y="0" font-size="13.2"><tspan font-style="italic">C</tspan><tspan font-size="9.6" dy="2.2" font-style="italic">β</tspan><tspan dy="-1.2" dx="4.4" font-size="16">=</tspan><tspan dx="4.0" dy="-1.0" letter-spacing="0.35">3.20</tspan></text></g>
<g transform="translate(441.7,184.7) scale(1,1.12)"><text x="0" y="0" font-size="13.2"><tspan font-style="italic">C</tspan><tspan font-size="9.6" dy="2.2" font-style="italic">α</tspan><tspan dy="-1.2" dx="4.4" font-size="16">=</tspan><tspan dx="4.0" dy="-1.0" letter-spacing="0.35">23.84</tspan></text></g>
<rect x="551" y="59" width="26.9" height="26.9" rx="3" fill="none" stroke="#7070e6" stroke-width="1.2" stroke-dasharray="3.4,2.2"/>
<rect x="613.9" y="59" width="26.9" height="26.9" rx="3" fill="none" stroke="#7070e6" stroke-width="1.2" stroke-dasharray="3.4,2.2"/>
<rect x="551" y="120.4" width="26.9" height="26.9" rx="3" fill="none" stroke="#7070e6" stroke-width="1.2" stroke-dasharray="3.4,2.2"/>
<rect x="613.9" y="120.4" width="26.9" height="26.9" rx="3" fill="none" stroke="#7070e6" stroke-width="1.2" stroke-dasharray="3.4,2.2"/>
<polyline points="572.20,79.20 595.90,73.00 619.40,79.20" stroke="#a8a8a8" stroke-width="0.8" fill="none" />
<polyline points="571.90,70.00 595.90,74.50 619.90,70.00" stroke="#a8a8a8" stroke-width="0.7" fill="none" />
<polyline points="572.20,126.60 595.90,133.00 619.40,126.60" stroke="#a8a8a8" stroke-width="0.8" fill="none" />
<polyline points="571.90,136.00 595.90,131.50 619.90,136.00" stroke="#a8a8a8" stroke-width="0.7" fill="none" />
<polyline points="557.70,79.20 567.00,103.00 557.70,126.60" stroke="#a8a8a8" stroke-width="0.8" fill="none" />
<polyline points="634.40,79.20 625.00,103.00 634.40,126.60" stroke="#a8a8a8" stroke-width="0.8" fill="none" />
<polygon points="566.00,76.00 626.00,76.00 626.00,130.00 566.00,130.00" stroke="#777" stroke-width="0.6" fill="none" stroke-dasharray="0.8,0.9"/>
<line x1="571.90" y1="64.70" x2="619.90" y2="64.70" stroke="#e03c3c" stroke-width="7.85" stroke-linecap="round"/>
<line x1="571.90" y1="64.70" x2="619.90" y2="64.70" stroke="#fff" stroke-width="4.75" stroke-linecap="round"/>
<line x1="571.90" y1="64.70" x2="619.90" y2="64.70" stroke="#000" stroke-width="1.1"/>
<circle cx="571.90" cy="64.70" r="1.25" fill="#000"/>
<circle cx="619.90" cy="64.70" r="1.25" fill="#000"/>
<line x1="571.90" y1="141.60" x2="619.90" y2="141.60" stroke="#e03c3c" stroke-width="7.85" stroke-linecap="round"/>
<line x1="571.90" y1="141.60" x2="619.90" y2="141.60" stroke="#fff" stroke-width="4.75" stroke-linecap="round"/>
<line x1="571.90" y1="141.60" x2="619.90" y2="141.60" stroke="#000" stroke-width="1.1"/>
<circle cx="571.90" cy="141.60" r="1.25" fill="#000"/>
<circle cx="619.90" cy="141.60" r="1.25" fill="#000"/>
<line x1="557.70" y1="79.20" x2="557.70" y2="126.60" stroke="#e03c3c" stroke-width="7.85" stroke-linecap="round"/>
<line x1="557.70" y1="79.20" x2="557.70" y2="126.60" stroke="#fff" stroke-width="4.75" stroke-linecap="round"/>
<line x1="557.70" y1="79.20" x2="557.70" y2="126.60" stroke="#000" stroke-width="1.1"/>
<circle cx="557.70" cy="79.20" r="1.25" fill="#000"/>
<circle cx="557.70" cy="126.60" r="1.25" fill="#000"/>
<line x1="572.20" y1="79.20" x2="572.20" y2="126.60" stroke="#e03c3c" stroke-width="7.85" stroke-linecap="round"/>
<line x1="572.20" y1="79.20" x2="572.20" y2="126.60" stroke="#fff" stroke-width="4.75" stroke-linecap="round"/>
<line x1="572.20" y1="79.20" x2="572.20" y2="126.60" stroke="#000" stroke-width="1.1"/>
<circle cx="572.20" cy="79.20" r="1.25" fill="#000"/>
<circle cx="572.20" cy="126.60" r="1.25" fill="#000"/>
<line x1="619.40" y1="79.20" x2="619.40" y2="126.60" stroke="#e03c3c" stroke-width="7.85" stroke-linecap="round"/>
<line x1="619.40" y1="79.20" x2="619.40" y2="126.60" stroke="#fff" stroke-width="4.75" stroke-linecap="round"/>
<line x1="619.40" y1="79.20" x2="619.40" y2="126.60" stroke="#000" stroke-width="1.1"/>
<circle cx="619.40" cy="79.20" r="1.25" fill="#000"/>
<circle cx="619.40" cy="126.60" r="1.25" fill="#000"/>
<line x1="634.40" y1="79.20" x2="634.40" y2="126.60" stroke="#e03c3c" stroke-width="7.85" stroke-linecap="round"/>
<line x1="634.40" y1="79.20" x2="634.40" y2="126.60" stroke="#fff" stroke-width="4.75" stroke-linecap="round"/>
<line x1="634.40" y1="79.20" x2="634.40" y2="126.60" stroke="#000" stroke-width="1.1"/>
<circle cx="634.40" cy="79.20" r="1.25" fill="#000"/>
<circle cx="634.40" cy="126.60" r="1.25" fill="#000"/>
<circle cx="564.50" cy="72.20" r="3.1" fill="#fff" stroke="#e03c3c" stroke-width="1.55"/>
<circle cx="564.50" cy="72.20" r="1.2" fill="#000"/>
<circle cx="626.90" cy="72.20" r="3.1" fill="#fff" stroke="#e03c3c" stroke-width="1.55"/>
<circle cx="626.90" cy="72.20" r="1.2" fill="#000"/>
<circle cx="564.50" cy="134.10" r="3.1" fill="#fff" stroke="#e03c3c" stroke-width="1.55"/>
<circle cx="564.50" cy="134.10" r="1.2" fill="#000"/>
<circle cx="626.90" cy="134.10" r="3.1" fill="#fff" stroke="#e03c3c" stroke-width="1.55"/>
<circle cx="626.90" cy="134.10" r="1.2" fill="#000"/>
<circle cx="539.55" cy="46.95" r="5.8" fill="none" stroke="#7070e6" stroke-width="1.2" stroke-dasharray="3.4,2.2"/>
<line x1="557.20" y1="64.60" x2="539.90" y2="47.30" stroke="#e03c3c" stroke-width="7.85" stroke-linecap="round"/>
<line x1="557.20" y1="64.60" x2="539.90" y2="47.30" stroke="#fff" stroke-width="4.75" stroke-linecap="round"/>
<line x1="557.20" y1="64.60" x2="539.90" y2="47.30" stroke="#000" stroke-width="1.1"/>
<circle cx="557.20" cy="64.60" r="1.25" fill="#000"/>
<circle cx="539.90" cy="47.30" r="1.25" fill="#000"/>
<circle cx="652.25" cy="46.95" r="5.8" fill="none" stroke="#7070e6" stroke-width="1.2" stroke-dasharray="3.4,2.2"/>
<line x1="634.60" y1="64.60" x2="651.90" y2="47.30" stroke="#e03c3c" stroke-width="7.85" stroke-linecap="round"/>
<line x1="634.60" y1="64.60" x2="651.90" y2="47.30" stroke="#fff" stroke-width="4.75" stroke-linecap="round"/>
<line x1="634.60" y1="64.60" x2="651.90" y2="47.30" stroke="#000" stroke-width="1.1"/>
<circle cx="634.60" cy="64.60" r="1.25" fill="#000"/>
<circle cx="651.90" cy="47.30" r="1.25" fill="#000"/>
<circle cx="539.55" cy="159.05" r="5.8" fill="none" stroke="#7070e6" stroke-width="1.2" stroke-dasharray="3.4,2.2"/>
<line x1="557.20" y1="141.40" x2="539.90" y2="158.70" stroke="#e03c3c" stroke-width="7.85" stroke-linecap="round"/>
<line x1="557.20" y1="141.40" x2="539.90" y2="158.70" stroke="#fff" stroke-width="4.75" stroke-linecap="round"/>
<line x1="557.20" y1="141.40" x2="539.90" y2="158.70" stroke="#000" stroke-width="1.1"/>
<circle cx="557.20" cy="141.40" r="1.25" fill="#000"/>
<circle cx="539.90" cy="158.70" r="1.25" fill="#000"/>
<circle cx="652.25" cy="159.05" r="5.8" fill="none" stroke="#7070e6" stroke-width="1.2" stroke-dasharray="3.4,2.2"/>
<line x1="634.60" y1="141.40" x2="651.90" y2="158.70" stroke="#e03c3c" stroke-width="7.85" stroke-linecap="round"/>
<line x1="634.60" y1="141.40" x2="651.90" y2="158.70" stroke="#fff" stroke-width="4.75" stroke-linecap="round"/>
<line x1="634.60" y1="141.40" x2="651.90" y2="158.70" stroke="#000" stroke-width="1.1"/>
<circle cx="634.60" cy="141.40" r="1.25" fill="#000"/>
<circle cx="651.90" cy="158.70" r="1.25" fill="#000"/>
<text x="595.6" y="45.3" font-size="11" text-anchor="middle"><tspan font-style="italic">X</tspan><tspan font-size="6.5" dy="1.8">in</tspan></text>
<line x1="595.60" y1="48.50" x2="595.60" y2="73.80" stroke="#000" stroke-width="0.9" />
<polygon points="595.60,73.80 594.00,70.20 597.20,70.20" fill="#000"/>
<g transform="translate(526.7,184.7) scale(1,1.12)"><text x="0" y="0" font-size="13.2"><tspan font-style="italic">C</tspan><tspan font-size="9.6" dy="2.2" font-style="italic">β</tspan><tspan dy="-1.2" dx="4.4" font-size="16">=</tspan><tspan dx="4.0" dy="-1.0" letter-spacing="0.35">2.74</tspan></text></g>
<g transform="translate(613.1,184.7) scale(1,1.12)"><text x="0" y="0" font-size="13.2"><tspan font-style="italic">C</tspan><tspan font-size="9.6" dy="2.2" font-style="italic">α</tspan><tspan dy="-1.2" dx="4.4" font-size="16">=</tspan><tspan dx="4.0" dy="-1.0" letter-spacing="0.35">19.51</tspan></text></g>
</svg></body></html>
